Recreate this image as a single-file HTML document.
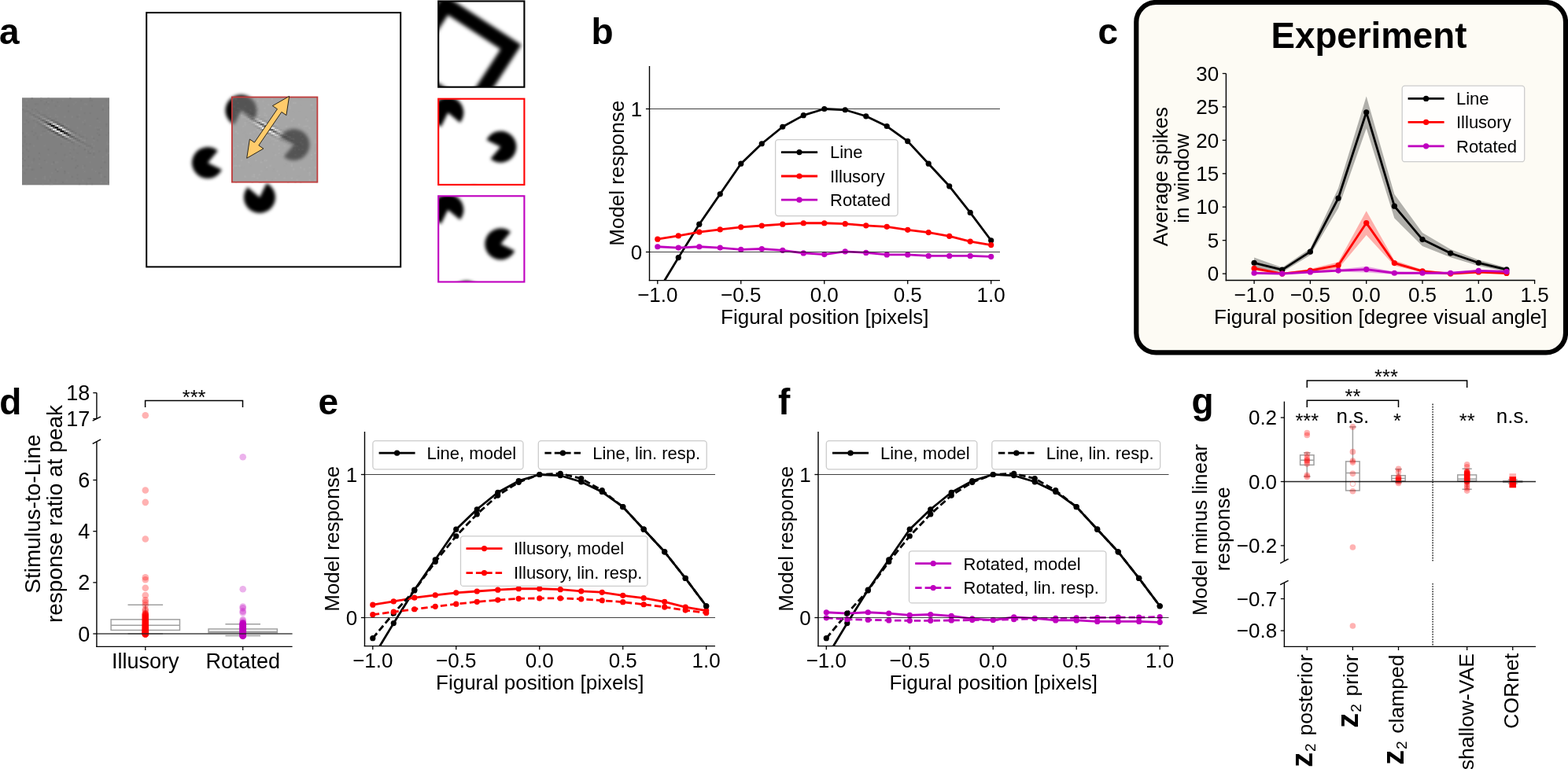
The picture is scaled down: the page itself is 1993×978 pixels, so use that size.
<!DOCTYPE html><html><head><meta charset="utf-8"><style>html,body{margin:0;padding:0;background:#fff;}svg{display:block;}text{font-family:"Liberation Sans", Arial, Helvetica, sans-serif;fill:#000;}</style></head><body>
<svg width="1993" height="978" viewBox="0 0 1993 978">
<defs><filter id="blur2" x="-20%" y="-20%" width="140%" height="140%"><feGaussianBlur stdDeviation="2.3"/></filter><filter id="blur3" x="-20%" y="-20%" width="140%" height="140%"><feGaussianBlur stdDeviation="2.8"/></filter><filter id="blur1" x="-20%" y="-20%" width="140%" height="140%"><feGaussianBlur stdDeviation="0.7"/></filter></defs>
<rect width="1993" height="978" fill="#fff"/>
<text x="-1" y="55.5" font-size="46" text-anchor="start" font-weight="bold">a</text>
<text x="751.5" y="55.5" font-size="46" text-anchor="start" font-weight="bold">b</text>
<text x="1395.5" y="55.5" font-size="46" text-anchor="start" font-weight="bold">c</text>
<text x="-0.8" y="527.3" font-size="46" text-anchor="start" font-weight="bold">d</text>
<text x="404.5" y="527.2" font-size="46" text-anchor="start" font-weight="bold">e</text>
<text x="989" y="527" font-size="46" text-anchor="start" font-weight="bold">f</text>
<text x="1514.5" y="526" font-size="46" text-anchor="start" font-weight="bold">g</text>
<rect x="28" y="124.3" width="111" height="111" fill="#808080"/>
<defs><clipPath id="clF"><rect x="28" y="124.3" width="111" height="111"/></clipPath><clipPath id="clO"><rect x="294.4" y="123" width="109.5" height="109.5"/></clipPath></defs>
<g clip-path="url(#clF)"><g filter="url(#blur1)"><rect x="28" y="131.24" width="2.36" height="2.36" fill="rgb(132,132,132)"/><rect x="28" y="135.86" width="2.36" height="2.36" fill="rgb(133,133,133)"/><rect x="28" y="138.18" width="2.36" height="2.36" fill="rgb(122,122,122)"/><rect x="28" y="168.24" width="2.36" height="2.36" fill="rgb(122,122,122)"/><rect x="28" y="184.43" width="2.36" height="2.36" fill="rgb(123,123,123)"/><rect x="28" y="193.68" width="2.36" height="2.36" fill="rgb(123,123,123)"/><rect x="28" y="200.61" width="2.36" height="2.36" fill="rgb(122,122,122)"/><rect x="28" y="209.86" width="2.36" height="2.36" fill="rgb(122,122,122)"/><rect x="28" y="214.49" width="2.36" height="2.36" fill="rgb(133,133,133)"/><rect x="30.31" y="135.86" width="2.36" height="2.36" fill="rgb(132,132,132)"/><rect x="30.31" y="140.49" width="2.36" height="2.36" fill="rgb(123,123,123)"/><rect x="30.31" y="154.36" width="2.36" height="2.36" fill="rgb(132,132,132)"/><rect x="30.31" y="156.68" width="2.36" height="2.36" fill="rgb(124,124,124)"/><rect x="30.31" y="172.86" width="2.36" height="2.36" fill="rgb(122,122,122)"/><rect x="30.31" y="177.49" width="2.36" height="2.36" fill="rgb(124,124,124)"/><rect x="30.31" y="179.8" width="2.36" height="2.36" fill="rgb(123,123,123)"/><rect x="30.31" y="189.05" width="2.36" height="2.36" fill="rgb(131,131,131)"/><rect x="30.31" y="200.61" width="2.36" height="2.36" fill="rgb(132,132,132)"/><rect x="30.31" y="202.93" width="2.36" height="2.36" fill="rgb(122,122,122)"/><rect x="30.31" y="212.18" width="2.36" height="2.36" fill="rgb(131,131,131)"/><rect x="30.31" y="219.11" width="2.36" height="2.36" fill="rgb(123,123,123)"/><rect x="32.62" y="126.61" width="2.36" height="2.36" fill="rgb(135,135,135)"/><rect x="32.62" y="133.55" width="2.36" height="2.36" fill="rgb(124,124,124)"/><rect x="32.62" y="140.49" width="2.36" height="2.36" fill="rgb(123,123,123)"/><rect x="32.62" y="142.8" width="2.36" height="2.36" fill="rgb(133,133,133)"/><rect x="32.62" y="145.11" width="2.36" height="2.36" fill="rgb(132,132,132)"/><rect x="32.62" y="152.05" width="2.36" height="2.36" fill="rgb(123,123,123)"/><rect x="32.62" y="168.24" width="2.36" height="2.36" fill="rgb(133,133,133)"/><rect x="32.62" y="182.11" width="2.36" height="2.36" fill="rgb(124,124,124)"/><rect x="32.62" y="189.05" width="2.36" height="2.36" fill="rgb(123,123,123)"/><rect x="32.62" y="198.3" width="2.36" height="2.36" fill="rgb(131,131,131)"/><rect x="32.62" y="212.18" width="2.36" height="2.36" fill="rgb(132,132,132)"/><rect x="32.62" y="214.49" width="2.36" height="2.36" fill="rgb(123,123,123)"/><rect x="32.62" y="232.99" width="2.36" height="2.36" fill="rgb(132,132,132)"/><rect x="34.94" y="131.24" width="2.36" height="2.36" fill="rgb(131,131,131)"/><rect x="34.94" y="138.18" width="2.36" height="2.36" fill="rgb(133,133,133)"/><rect x="34.94" y="140.49" width="2.36" height="2.36" fill="rgb(123,123,123)"/><rect x="34.94" y="154.36" width="2.36" height="2.36" fill="rgb(122,122,122)"/><rect x="34.94" y="170.55" width="2.36" height="2.36" fill="rgb(132,132,132)"/><rect x="34.94" y="186.74" width="2.36" height="2.36" fill="rgb(132,132,132)"/><rect x="34.94" y="191.36" width="2.36" height="2.36" fill="rgb(124,124,124)"/><rect x="34.94" y="198.3" width="2.36" height="2.36" fill="rgb(122,122,122)"/><rect x="34.94" y="209.86" width="2.36" height="2.36" fill="rgb(124,124,124)"/><rect x="37.25" y="138.18" width="2.36" height="2.36" fill="rgb(131,131,131)"/><rect x="37.25" y="142.8" width="2.36" height="2.36" fill="rgb(121,121,121)"/><rect x="37.25" y="147.43" width="2.36" height="2.36" fill="rgb(132,132,132)"/><rect x="37.25" y="182.11" width="2.36" height="2.36" fill="rgb(123,123,123)"/><rect x="37.25" y="212.18" width="2.36" height="2.36" fill="rgb(133,133,133)"/><rect x="39.56" y="124.3" width="2.36" height="2.36" fill="rgb(122,122,122)"/><rect x="39.56" y="138.18" width="2.36" height="2.36" fill="rgb(123,123,123)"/><rect x="39.56" y="145.11" width="2.36" height="2.36" fill="rgb(123,123,123)"/><rect x="39.56" y="147.43" width="2.36" height="2.36" fill="rgb(137,137,137)"/><rect x="39.56" y="149.74" width="2.36" height="2.36" fill="rgb(131,131,131)"/><rect x="39.56" y="165.93" width="2.36" height="2.36" fill="rgb(123,123,123)"/><rect x="39.56" y="205.24" width="2.36" height="2.36" fill="rgb(132,132,132)"/><rect x="39.56" y="214.49" width="2.36" height="2.36" fill="rgb(122,122,122)"/><rect x="41.88" y="142.8" width="2.36" height="2.36" fill="rgb(133,133,133)"/><rect x="41.88" y="145.11" width="2.36" height="2.36" fill="rgb(118,118,118)"/><rect x="41.88" y="149.74" width="2.36" height="2.36" fill="rgb(133,133,133)"/><rect x="41.88" y="152.05" width="2.36" height="2.36" fill="rgb(124,124,124)"/><rect x="41.88" y="161.3" width="2.36" height="2.36" fill="rgb(132,132,132)"/><rect x="41.88" y="170.55" width="2.36" height="2.36" fill="rgb(124,124,124)"/><rect x="41.88" y="184.43" width="2.36" height="2.36" fill="rgb(133,133,133)"/><rect x="41.88" y="200.61" width="2.36" height="2.36" fill="rgb(123,123,123)"/><rect x="41.88" y="202.93" width="2.36" height="2.36" fill="rgb(124,124,124)"/><rect x="41.88" y="214.49" width="2.36" height="2.36" fill="rgb(124,124,124)"/><rect x="44.19" y="131.24" width="2.36" height="2.36" fill="rgb(123,123,123)"/><rect x="44.19" y="135.86" width="2.36" height="2.36" fill="rgb(131,131,131)"/><rect x="44.19" y="138.18" width="2.36" height="2.36" fill="rgb(124,124,124)"/><rect x="44.19" y="147.43" width="2.36" height="2.36" fill="rgb(119,119,119)"/><rect x="44.19" y="149.74" width="2.36" height="2.36" fill="rgb(135,135,135)"/><rect x="44.19" y="156.68" width="2.36" height="2.36" fill="rgb(132,132,132)"/><rect x="44.19" y="158.99" width="2.36" height="2.36" fill="rgb(132,132,132)"/><rect x="44.19" y="168.24" width="2.36" height="2.36" fill="rgb(123,123,123)"/><rect x="44.19" y="226.05" width="2.36" height="2.36" fill="rgb(133,133,133)"/><rect x="46.5" y="131.24" width="2.36" height="2.36" fill="rgb(124,124,124)"/><rect x="46.5" y="140.49" width="2.36" height="2.36" fill="rgb(123,123,123)"/><rect x="46.5" y="145.11" width="2.36" height="2.36" fill="rgb(136,136,136)"/><rect x="46.5" y="147.43" width="2.36" height="2.36" fill="rgb(121,121,121)"/><rect x="46.5" y="152.05" width="2.36" height="2.36" fill="rgb(134,134,134)"/><rect x="46.5" y="154.36" width="2.36" height="2.36" fill="rgb(121,121,121)"/><rect x="46.5" y="172.86" width="2.36" height="2.36" fill="rgb(124,124,124)"/><rect x="46.5" y="175.18" width="2.36" height="2.36" fill="rgb(124,124,124)"/><rect x="48.81" y="142.8" width="2.36" height="2.36" fill="rgb(122,122,122)"/><rect x="48.81" y="145.11" width="2.36" height="2.36" fill="rgb(134,134,134)"/><rect x="48.81" y="149.74" width="2.36" height="2.36" fill="rgb(114,114,114)"/><rect x="48.81" y="152.05" width="2.36" height="2.36" fill="rgb(140,140,140)"/><rect x="48.81" y="154.36" width="2.36" height="2.36" fill="rgb(131,131,131)"/><rect x="48.81" y="156.68" width="2.36" height="2.36" fill="rgb(122,122,122)"/><rect x="48.81" y="193.68" width="2.36" height="2.36" fill="rgb(122,122,122)"/><rect x="48.81" y="198.3" width="2.36" height="2.36" fill="rgb(131,131,131)"/><rect x="48.81" y="200.61" width="2.36" height="2.36" fill="rgb(124,124,124)"/><rect x="48.81" y="207.55" width="2.36" height="2.36" fill="rgb(133,133,133)"/><rect x="51.12" y="124.3" width="2.36" height="2.36" fill="rgb(133,133,133)"/><rect x="51.12" y="126.61" width="2.36" height="2.36" fill="rgb(124,124,124)"/><rect x="51.12" y="140.49" width="2.36" height="2.36" fill="rgb(132,132,132)"/><rect x="51.12" y="145.11" width="2.36" height="2.36" fill="rgb(124,124,124)"/><rect x="51.12" y="147.43" width="2.36" height="2.36" fill="rgb(141,141,141)"/><rect x="51.12" y="149.74" width="2.36" height="2.36" fill="rgb(123,123,123)"/><rect x="51.12" y="152.05" width="2.36" height="2.36" fill="rgb(120,120,120)"/><rect x="51.12" y="154.36" width="2.36" height="2.36" fill="rgb(146,146,146)"/><rect x="51.12" y="156.68" width="2.36" height="2.36" fill="rgb(122,122,122)"/><rect x="51.12" y="158.99" width="2.36" height="2.36" fill="rgb(124,124,124)"/><rect x="51.12" y="170.55" width="2.36" height="2.36" fill="rgb(134,134,134)"/><rect x="51.12" y="212.18" width="2.36" height="2.36" fill="rgb(122,122,122)"/><rect x="53.44" y="145.11" width="2.36" height="2.36" fill="rgb(120,120,120)"/><rect x="53.44" y="147.43" width="2.36" height="2.36" fill="rgb(134,134,134)"/><rect x="53.44" y="149.74" width="2.36" height="2.36" fill="rgb(142,142,142)"/><rect x="53.44" y="152.05" width="2.36" height="2.36" fill="rgb(104,104,104)"/><rect x="53.44" y="154.36" width="2.36" height="2.36" fill="rgb(135,135,135)"/><rect x="53.44" y="156.68" width="2.36" height="2.36" fill="rgb(140,140,140)"/><rect x="53.44" y="158.99" width="2.36" height="2.36" fill="rgb(117,117,117)"/><rect x="53.44" y="165.93" width="2.36" height="2.36" fill="rgb(124,124,124)"/><rect x="53.44" y="226.05" width="2.36" height="2.36" fill="rgb(131,131,131)"/><rect x="53.44" y="232.99" width="2.36" height="2.36" fill="rgb(132,132,132)"/><rect x="55.75" y="126.61" width="2.36" height="2.36" fill="rgb(131,131,131)"/><rect x="55.75" y="131.24" width="2.36" height="2.36" fill="rgb(123,123,123)"/><rect x="55.75" y="145.11" width="2.36" height="2.36" fill="rgb(122,122,122)"/><rect x="55.75" y="147.43" width="2.36" height="2.36" fill="rgb(123,123,123)"/><rect x="55.75" y="149.74" width="2.36" height="2.36" fill="rgb(144,144,144)"/><rect x="55.75" y="152.05" width="2.36" height="2.36" fill="rgb(117,117,117)"/><rect x="55.75" y="154.36" width="2.36" height="2.36" fill="rgb(106,106,106)"/><rect x="55.75" y="156.68" width="2.36" height="2.36" fill="rgb(160,160,160)"/><rect x="55.75" y="158.99" width="2.36" height="2.36" fill="rgb(122,122,122)"/><rect x="55.75" y="161.3" width="2.36" height="2.36" fill="rgb(117,117,117)"/><rect x="55.75" y="165.93" width="2.36" height="2.36" fill="rgb(124,124,124)"/><rect x="55.75" y="168.24" width="2.36" height="2.36" fill="rgb(131,131,131)"/><rect x="55.75" y="184.43" width="2.36" height="2.36" fill="rgb(131,131,131)"/><rect x="55.75" y="202.93" width="2.36" height="2.36" fill="rgb(124,124,124)"/><rect x="55.75" y="223.74" width="2.36" height="2.36" fill="rgb(133,133,133)"/><rect x="55.75" y="226.05" width="2.36" height="2.36" fill="rgb(133,133,133)"/><rect x="58.06" y="128.93" width="2.36" height="2.36" fill="rgb(122,122,122)"/><rect x="58.06" y="138.18" width="2.36" height="2.36" fill="rgb(132,132,132)"/><rect x="58.06" y="147.43" width="2.36" height="2.36" fill="rgb(121,121,121)"/><rect x="58.06" y="149.74" width="2.36" height="2.36" fill="rgb(131,131,131)"/><rect x="58.06" y="152.05" width="2.36" height="2.36" fill="rgb(152,152,152)"/><rect x="58.06" y="154.36" width="2.36" height="2.36" fill="rgb(82,82,82)"/><rect x="58.06" y="156.68" width="2.36" height="2.36" fill="rgb(138,138,138)"/><rect x="58.06" y="158.99" width="2.36" height="2.36" fill="rgb(162,162,162)"/><rect x="58.06" y="161.3" width="2.36" height="2.36" fill="rgb(107,107,107)"/><rect x="58.06" y="205.24" width="2.36" height="2.36" fill="rgb(132,132,132)"/><rect x="60.38" y="124.3" width="2.36" height="2.36" fill="rgb(131,131,131)"/><rect x="60.38" y="128.93" width="2.36" height="2.36" fill="rgb(133,133,133)"/><rect x="60.38" y="131.24" width="2.36" height="2.36" fill="rgb(124,124,124)"/><rect x="60.38" y="135.86" width="2.36" height="2.36" fill="rgb(132,132,132)"/><rect x="60.38" y="142.8" width="2.36" height="2.36" fill="rgb(131,131,131)"/><rect x="60.38" y="149.74" width="2.36" height="2.36" fill="rgb(115,115,115)"/><rect x="60.38" y="152.05" width="2.36" height="2.36" fill="rgb(159,159,159)"/><rect x="60.38" y="154.36" width="2.36" height="2.36" fill="rgb(122,122,122)"/><rect x="60.38" y="156.68" width="2.36" height="2.36" fill="rgb(67,67,67)"/><rect x="60.38" y="158.99" width="2.36" height="2.36" fill="rgb(189,189,189)"/><rect x="60.38" y="163.61" width="2.36" height="2.36" fill="rgb(107,107,107)"/><rect x="60.38" y="165.93" width="2.36" height="2.36" fill="rgb(137,137,137)"/><rect x="60.38" y="189.05" width="2.36" height="2.36" fill="rgb(123,123,123)"/><rect x="60.38" y="195.99" width="2.36" height="2.36" fill="rgb(132,132,132)"/><rect x="60.38" y="228.36" width="2.36" height="2.36" fill="rgb(132,132,132)"/><rect x="62.69" y="147.43" width="2.36" height="2.36" fill="rgb(133,133,133)"/><rect x="62.69" y="149.74" width="2.36" height="2.36" fill="rgb(121,121,121)"/><rect x="62.69" y="154.36" width="2.36" height="2.36" fill="rgb(175,175,175)"/><rect x="62.69" y="156.68" width="2.36" height="2.36" fill="rgb(46,46,46)"/><rect x="62.69" y="161.3" width="2.36" height="2.36" fill="rgb(197,197,197)"/><rect x="62.69" y="163.61" width="2.36" height="2.36" fill="rgb(92,92,92)"/><rect x="62.69" y="165.93" width="2.36" height="2.36" fill="rgb(122,122,122)"/><rect x="62.69" y="168.24" width="2.36" height="2.36" fill="rgb(136,136,136)"/><rect x="62.69" y="223.74" width="2.36" height="2.36" fill="rgb(132,132,132)"/><rect x="62.69" y="228.36" width="2.36" height="2.36" fill="rgb(123,123,123)"/><rect x="62.69" y="232.99" width="2.36" height="2.36" fill="rgb(132,132,132)"/><rect x="65" y="126.61" width="2.36" height="2.36" fill="rgb(124,124,124)"/><rect x="65" y="152.05" width="2.36" height="2.36" fill="rgb(109,109,109)"/><rect x="65" y="154.36" width="2.36" height="2.36" fill="rgb(178,178,178)"/><rect x="65" y="156.68" width="2.36" height="2.36" fill="rgb(134,134,134)"/><rect x="65" y="158.99" width="2.36" height="2.36" fill="rgb(8,8,8)"/><rect x="65" y="161.3" width="2.36" height="2.36" fill="rgb(216,216,216)"/><rect x="65" y="163.61" width="2.36" height="2.36" fill="rgb(146,146,146)"/><rect x="65" y="165.93" width="2.36" height="2.36" fill="rgb(98,98,98)"/><rect x="65" y="168.24" width="2.36" height="2.36" fill="rgb(140,140,140)"/><rect x="65" y="207.55" width="2.36" height="2.36" fill="rgb(133,133,133)"/><rect x="65" y="219.11" width="2.36" height="2.36" fill="rgb(131,131,131)"/><rect x="65" y="232.99" width="2.36" height="2.36" fill="rgb(133,133,133)"/><rect x="67.31" y="128.93" width="2.36" height="2.36" fill="rgb(131,131,131)"/><rect x="67.31" y="152.05" width="2.36" height="2.36" fill="rgb(115,115,115)"/><rect x="67.31" y="154.36" width="2.36" height="2.36" fill="rgb(119,119,119)"/><rect x="67.31" y="156.68" width="2.36" height="2.36" fill="rgb(215,215,215)"/><rect x="67.31" y="158.99" width="2.36" height="2.36" fill="rgb(16,16,16)"/><rect x="67.31" y="161.3" width="2.36" height="2.36" fill="rgb(84,84,84)"/><rect x="67.31" y="163.61" width="2.36" height="2.36" fill="rgb(246,246,246)"/><rect x="67.31" y="165.93" width="2.36" height="2.36" fill="rgb(83,83,83)"/><rect x="67.31" y="168.24" width="2.36" height="2.36" fill="rgb(119,119,119)"/><rect x="67.31" y="170.55" width="2.36" height="2.36" fill="rgb(138,138,138)"/><rect x="67.31" y="172.86" width="2.36" height="2.36" fill="rgb(123,123,123)"/><rect x="67.31" y="205.24" width="2.36" height="2.36" fill="rgb(121,121,121)"/><rect x="69.62" y="133.55" width="2.36" height="2.36" fill="rgb(124,124,124)"/><rect x="69.62" y="138.18" width="2.36" height="2.36" fill="rgb(131,131,131)"/><rect x="69.62" y="145.11" width="2.36" height="2.36" fill="rgb(132,132,132)"/><rect x="69.62" y="147.43" width="2.36" height="2.36" fill="rgb(133,133,133)"/><rect x="69.62" y="149.74" width="2.36" height="2.36" fill="rgb(123,123,123)"/><rect x="69.62" y="154.36" width="2.36" height="2.36" fill="rgb(104,104,104)"/><rect x="69.62" y="156.68" width="2.36" height="2.36" fill="rgb(181,181,181)"/><rect x="69.62" y="158.99" width="2.36" height="2.36" fill="rgb(167,167,167)"/><rect x="69.62" y="161.3" width="2.36" height="2.36" fill="rgb(0,0,0)"/><rect x="69.62" y="163.61" width="2.36" height="2.36" fill="rgb(227,227,227)"/><rect x="69.62" y="165.93" width="2.36" height="2.36" fill="rgb(170,170,170)"/><rect x="69.62" y="168.24" width="2.36" height="2.36" fill="rgb(82,82,82)"/><rect x="69.62" y="170.55" width="2.36" height="2.36" fill="rgb(136,136,136)"/><rect x="69.62" y="193.68" width="2.36" height="2.36" fill="rgb(124,124,124)"/><rect x="69.62" y="205.24" width="2.36" height="2.36" fill="rgb(133,133,133)"/><rect x="69.62" y="214.49" width="2.36" height="2.36" fill="rgb(122,122,122)"/><rect x="69.62" y="228.36" width="2.36" height="2.36" fill="rgb(124,124,124)"/><rect x="71.94" y="128.93" width="2.36" height="2.36" fill="rgb(124,124,124)"/><rect x="71.94" y="147.43" width="2.36" height="2.36" fill="rgb(132,132,132)"/><rect x="71.94" y="152.05" width="2.36" height="2.36" fill="rgb(132,132,132)"/><rect x="71.94" y="154.36" width="2.36" height="2.36" fill="rgb(112,112,112)"/><rect x="71.94" y="156.68" width="2.36" height="2.36" fill="rgb(109,109,109)"/><rect x="71.94" y="158.99" width="2.36" height="2.36" fill="rgb(244,244,244)"/><rect x="71.94" y="161.3" width="2.36" height="2.36" fill="rgb(21,21,21)"/><rect x="71.94" y="163.61" width="2.36" height="2.36" fill="rgb(37,37,37)"/><rect x="71.94" y="165.93" width="2.36" height="2.36" fill="rgb(255,255,255)"/><rect x="71.94" y="168.24" width="2.36" height="2.36" fill="rgb(92,92,92)"/><rect x="71.94" y="170.55" width="2.36" height="2.36" fill="rgb(108,108,108)"/><rect x="71.94" y="172.86" width="2.36" height="2.36" fill="rgb(135,135,135)"/><rect x="71.94" y="205.24" width="2.36" height="2.36" fill="rgb(132,132,132)"/><rect x="71.94" y="214.49" width="2.36" height="2.36" fill="rgb(133,133,133)"/><rect x="71.94" y="216.8" width="2.36" height="2.36" fill="rgb(121,121,121)"/><rect x="71.94" y="230.68" width="2.36" height="2.36" fill="rgb(131,131,131)"/><rect x="74.25" y="133.55" width="2.36" height="2.36" fill="rgb(132,132,132)"/><rect x="74.25" y="156.68" width="2.36" height="2.36" fill="rgb(95,95,95)"/><rect x="74.25" y="158.99" width="2.36" height="2.36" fill="rgb(173,173,173)"/><rect x="74.25" y="161.3" width="2.36" height="2.36" fill="rgb(205,205,205)"/><rect x="74.25" y="163.61" width="2.36" height="2.36" fill="rgb(0,0,0)"/><rect x="74.25" y="165.93" width="2.36" height="2.36" fill="rgb(203,203,203)"/><rect x="74.25" y="168.24" width="2.36" height="2.36" fill="rgb(190,190,190)"/><rect x="74.25" y="170.55" width="2.36" height="2.36" fill="rgb(82,82,82)"/><rect x="74.25" y="172.86" width="2.36" height="2.36" fill="rgb(134,134,134)"/><rect x="76.56" y="154.36" width="2.36" height="2.36" fill="rgb(133,133,133)"/><rect x="76.56" y="156.68" width="2.36" height="2.36" fill="rgb(118,118,118)"/><rect x="76.56" y="158.99" width="2.36" height="2.36" fill="rgb(100,100,100)"/><rect x="76.56" y="161.3" width="2.36" height="2.36" fill="rgb(244,244,244)"/><rect x="76.56" y="163.61" width="2.36" height="2.36" fill="rgb(60,60,60)"/><rect x="76.56" y="165.93" width="2.36" height="2.36" fill="rgb(8,8,8)"/><rect x="76.56" y="168.24" width="2.36" height="2.36" fill="rgb(255,255,255)"/><rect x="76.56" y="170.55" width="2.36" height="2.36" fill="rgb(108,108,108)"/><rect x="76.56" y="172.86" width="2.36" height="2.36" fill="rgb(110,110,110)"/><rect x="76.56" y="175.18" width="2.36" height="2.36" fill="rgb(133,133,133)"/><rect x="76.56" y="182.11" width="2.36" height="2.36" fill="rgb(122,122,122)"/><rect x="76.56" y="212.18" width="2.36" height="2.36" fill="rgb(132,132,132)"/><rect x="78.88" y="126.61" width="2.36" height="2.36" fill="rgb(132,132,132)"/><rect x="78.88" y="158.99" width="2.36" height="2.36" fill="rgb(96,96,96)"/><rect x="78.88" y="161.3" width="2.36" height="2.36" fill="rgb(151,151,151)"/><rect x="78.88" y="163.61" width="2.36" height="2.36" fill="rgb(220,220,220)"/><rect x="78.88" y="165.93" width="2.36" height="2.36" fill="rgb(0,0,0)"/><rect x="78.88" y="168.24" width="2.36" height="2.36" fill="rgb(156,156,156)"/><rect x="78.88" y="170.55" width="2.36" height="2.36" fill="rgb(197,197,197)"/><rect x="78.88" y="172.86" width="2.36" height="2.36" fill="rgb(91,91,91)"/><rect x="78.88" y="177.49" width="2.36" height="2.36" fill="rgb(132,132,132)"/><rect x="78.88" y="202.93" width="2.36" height="2.36" fill="rgb(124,124,124)"/><rect x="78.88" y="230.68" width="2.36" height="2.36" fill="rgb(122,122,122)"/><rect x="81.19" y="147.43" width="2.36" height="2.36" fill="rgb(133,133,133)"/><rect x="81.19" y="156.68" width="2.36" height="2.36" fill="rgb(136,136,136)"/><rect x="81.19" y="158.99" width="2.36" height="2.36" fill="rgb(124,124,124)"/><rect x="81.19" y="161.3" width="2.36" height="2.36" fill="rgb(101,101,101)"/><rect x="81.19" y="163.61" width="2.36" height="2.36" fill="rgb(208,208,208)"/><rect x="81.19" y="165.93" width="2.36" height="2.36" fill="rgb(104,104,104)"/><rect x="81.19" y="168.24" width="2.36" height="2.36" fill="rgb(23,23,23)"/><rect x="81.19" y="170.55" width="2.36" height="2.36" fill="rgb(212,212,212)"/><rect x="81.19" y="175.18" width="2.36" height="2.36" fill="rgb(111,111,111)"/><rect x="81.19" y="177.49" width="2.36" height="2.36" fill="rgb(132,132,132)"/><rect x="81.19" y="184.43" width="2.36" height="2.36" fill="rgb(132,132,132)"/><rect x="81.19" y="195.99" width="2.36" height="2.36" fill="rgb(124,124,124)"/><rect x="81.19" y="216.8" width="2.36" height="2.36" fill="rgb(121,121,121)"/><rect x="81.19" y="219.11" width="2.36" height="2.36" fill="rgb(123,123,123)"/><rect x="83.5" y="158.99" width="2.36" height="2.36" fill="rgb(136,136,136)"/><rect x="83.5" y="161.3" width="2.36" height="2.36" fill="rgb(109,109,109)"/><rect x="83.5" y="163.61" width="2.36" height="2.36" fill="rgb(132,132,132)"/><rect x="83.5" y="165.93" width="2.36" height="2.36" fill="rgb(198,198,198)"/><rect x="83.5" y="168.24" width="2.36" height="2.36" fill="rgb(35,35,35)"/><rect x="83.5" y="172.86" width="2.36" height="2.36" fill="rgb(175,175,175)"/><rect x="83.5" y="175.18" width="2.36" height="2.36" fill="rgb(106,106,106)"/><rect x="83.5" y="179.8" width="2.36" height="2.36" fill="rgb(132,132,132)"/><rect x="83.5" y="198.3" width="2.36" height="2.36" fill="rgb(131,131,131)"/><rect x="83.5" y="228.36" width="2.36" height="2.36" fill="rgb(131,131,131)"/><rect x="85.81" y="133.55" width="2.36" height="2.36" fill="rgb(123,123,123)"/><rect x="85.81" y="140.49" width="2.36" height="2.36" fill="rgb(123,123,123)"/><rect x="85.81" y="158.99" width="2.36" height="2.36" fill="rgb(133,133,133)"/><rect x="85.81" y="163.61" width="2.36" height="2.36" fill="rgb(109,109,109)"/><rect x="85.81" y="165.93" width="2.36" height="2.36" fill="rgb(173,173,173)"/><rect x="85.81" y="170.55" width="2.36" height="2.36" fill="rgb(60,60,60)"/><rect x="85.81" y="172.86" width="2.36" height="2.36" fill="rgb(172,172,172)"/><rect x="85.81" y="175.18" width="2.36" height="2.36" fill="rgb(136,136,136)"/><rect x="85.81" y="177.49" width="2.36" height="2.36" fill="rgb(118,118,118)"/><rect x="85.81" y="179.8" width="2.36" height="2.36" fill="rgb(134,134,134)"/><rect x="85.81" y="219.11" width="2.36" height="2.36" fill="rgb(131,131,131)"/><rect x="88.12" y="124.3" width="2.36" height="2.36" fill="rgb(123,123,123)"/><rect x="88.12" y="163.61" width="2.36" height="2.36" fill="rgb(119,119,119)"/><rect x="88.12" y="168.24" width="2.36" height="2.36" fill="rgb(171,171,171)"/><rect x="88.12" y="170.55" width="2.36" height="2.36" fill="rgb(88,88,88)"/><rect x="88.12" y="172.86" width="2.36" height="2.36" fill="rgb(115,115,115)"/><rect x="88.12" y="175.18" width="2.36" height="2.36" fill="rgb(157,157,157)"/><rect x="88.12" y="177.49" width="2.36" height="2.36" fill="rgb(118,118,118)"/><rect x="88.12" y="186.74" width="2.36" height="2.36" fill="rgb(132,132,132)"/><rect x="88.12" y="191.36" width="2.36" height="2.36" fill="rgb(131,131,131)"/><rect x="88.12" y="193.68" width="2.36" height="2.36" fill="rgb(124,124,124)"/><rect x="88.12" y="195.99" width="2.36" height="2.36" fill="rgb(131,131,131)"/><rect x="88.12" y="223.74" width="2.36" height="2.36" fill="rgb(131,131,131)"/><rect x="90.44" y="147.43" width="2.36" height="2.36" fill="rgb(133,133,133)"/><rect x="90.44" y="165.93" width="2.36" height="2.36" fill="rgb(112,112,112)"/><rect x="90.44" y="168.24" width="2.36" height="2.36" fill="rgb(145,145,145)"/><rect x="90.44" y="170.55" width="2.36" height="2.36" fill="rgb(137,137,137)"/><rect x="90.44" y="172.86" width="2.36" height="2.36" fill="rgb(94,94,94)"/><rect x="90.44" y="175.18" width="2.36" height="2.36" fill="rgb(144,144,144)"/><rect x="90.44" y="177.49" width="2.36" height="2.36" fill="rgb(136,136,136)"/><rect x="90.44" y="179.8" width="2.36" height="2.36" fill="rgb(117,117,117)"/><rect x="90.44" y="200.61" width="2.36" height="2.36" fill="rgb(123,123,123)"/><rect x="90.44" y="223.74" width="2.36" height="2.36" fill="rgb(123,123,123)"/><rect x="92.75" y="131.24" width="2.36" height="2.36" fill="rgb(131,131,131)"/><rect x="92.75" y="165.93" width="2.36" height="2.36" fill="rgb(121,121,121)"/><rect x="92.75" y="168.24" width="2.36" height="2.36" fill="rgb(124,124,124)"/><rect x="92.75" y="170.55" width="2.36" height="2.36" fill="rgb(148,148,148)"/><rect x="92.75" y="172.86" width="2.36" height="2.36" fill="rgb(111,111,111)"/><rect x="92.75" y="175.18" width="2.36" height="2.36" fill="rgb(116,116,116)"/><rect x="92.75" y="177.49" width="2.36" height="2.36" fill="rgb(144,144,144)"/><rect x="92.75" y="179.8" width="2.36" height="2.36" fill="rgb(124,124,124)"/><rect x="92.75" y="182.11" width="2.36" height="2.36" fill="rgb(124,124,124)"/><rect x="92.75" y="189.05" width="2.36" height="2.36" fill="rgb(124,124,124)"/><rect x="92.75" y="198.3" width="2.36" height="2.36" fill="rgb(132,132,132)"/><rect x="95.06" y="128.93" width="2.36" height="2.36" fill="rgb(132,132,132)"/><rect x="95.06" y="168.24" width="2.36" height="2.36" fill="rgb(117,117,117)"/><rect x="95.06" y="170.55" width="2.36" height="2.36" fill="rgb(132,132,132)"/><rect x="95.06" y="172.86" width="2.36" height="2.36" fill="rgb(136,136,136)"/><rect x="95.06" y="175.18" width="2.36" height="2.36" fill="rgb(108,108,108)"/><rect x="95.06" y="177.49" width="2.36" height="2.36" fill="rgb(133,133,133)"/><rect x="95.06" y="179.8" width="2.36" height="2.36" fill="rgb(134,134,134)"/><rect x="95.06" y="186.74" width="2.36" height="2.36" fill="rgb(132,132,132)"/><rect x="95.06" y="202.93" width="2.36" height="2.36" fill="rgb(124,124,124)"/><rect x="95.06" y="212.18" width="2.36" height="2.36" fill="rgb(122,122,122)"/><rect x="95.06" y="228.36" width="2.36" height="2.36" fill="rgb(131,131,131)"/><rect x="97.38" y="147.43" width="2.36" height="2.36" fill="rgb(123,123,123)"/><rect x="97.38" y="161.3" width="2.36" height="2.36" fill="rgb(132,132,132)"/><rect x="97.38" y="172.86" width="2.36" height="2.36" fill="rgb(137,137,137)"/><rect x="97.38" y="175.18" width="2.36" height="2.36" fill="rgb(119,119,119)"/><rect x="97.38" y="177.49" width="2.36" height="2.36" fill="rgb(114,114,114)"/><rect x="97.38" y="179.8" width="2.36" height="2.36" fill="rgb(135,135,135)"/><rect x="97.38" y="193.68" width="2.36" height="2.36" fill="rgb(124,124,124)"/><rect x="97.38" y="209.86" width="2.36" height="2.36" fill="rgb(121,121,121)"/><rect x="97.38" y="221.43" width="2.36" height="2.36" fill="rgb(124,124,124)"/><rect x="97.38" y="226.05" width="2.36" height="2.36" fill="rgb(124,124,124)"/><rect x="99.69" y="145.11" width="2.36" height="2.36" fill="rgb(131,131,131)"/><rect x="99.69" y="149.74" width="2.36" height="2.36" fill="rgb(131,131,131)"/><rect x="99.69" y="170.55" width="2.36" height="2.36" fill="rgb(122,122,122)"/><rect x="99.69" y="175.18" width="2.36" height="2.36" fill="rgb(134,134,134)"/><rect x="99.69" y="177.49" width="2.36" height="2.36" fill="rgb(114,114,114)"/><rect x="99.69" y="182.11" width="2.36" height="2.36" fill="rgb(134,134,134)"/><rect x="99.69" y="184.43" width="2.36" height="2.36" fill="rgb(122,122,122)"/><rect x="99.69" y="232.99" width="2.36" height="2.36" fill="rgb(124,124,124)"/><rect x="102" y="126.61" width="2.36" height="2.36" fill="rgb(123,123,123)"/><rect x="102" y="135.86" width="2.36" height="2.36" fill="rgb(131,131,131)"/><rect x="102" y="138.18" width="2.36" height="2.36" fill="rgb(132,132,132)"/><rect x="102" y="165.93" width="2.36" height="2.36" fill="rgb(132,132,132)"/><rect x="102" y="172.86" width="2.36" height="2.36" fill="rgb(121,121,121)"/><rect x="102" y="175.18" width="2.36" height="2.36" fill="rgb(137,137,137)"/><rect x="102" y="179.8" width="2.36" height="2.36" fill="rgb(121,121,121)"/><rect x="102" y="182.11" width="2.36" height="2.36" fill="rgb(133,133,133)"/><rect x="104.31" y="154.36" width="2.36" height="2.36" fill="rgb(133,133,133)"/><rect x="104.31" y="172.86" width="2.36" height="2.36" fill="rgb(122,122,122)"/><rect x="104.31" y="177.49" width="2.36" height="2.36" fill="rgb(136,136,136)"/><rect x="104.31" y="179.8" width="2.36" height="2.36" fill="rgb(117,117,117)"/><rect x="104.31" y="184.43" width="2.36" height="2.36" fill="rgb(133,133,133)"/><rect x="104.31" y="209.86" width="2.36" height="2.36" fill="rgb(131,131,131)"/><rect x="104.31" y="212.18" width="2.36" height="2.36" fill="rgb(133,133,133)"/><rect x="104.31" y="228.36" width="2.36" height="2.36" fill="rgb(133,133,133)"/><rect x="106.62" y="131.24" width="2.36" height="2.36" fill="rgb(132,132,132)"/><rect x="106.62" y="142.8" width="2.36" height="2.36" fill="rgb(124,124,124)"/><rect x="106.62" y="152.05" width="2.36" height="2.36" fill="rgb(132,132,132)"/><rect x="106.62" y="156.68" width="2.36" height="2.36" fill="rgb(124,124,124)"/><rect x="106.62" y="170.55" width="2.36" height="2.36" fill="rgb(131,131,131)"/><rect x="106.62" y="177.49" width="2.36" height="2.36" fill="rgb(138,138,138)"/><rect x="106.62" y="182.11" width="2.36" height="2.36" fill="rgb(121,121,121)"/><rect x="106.62" y="184.43" width="2.36" height="2.36" fill="rgb(134,134,134)"/><rect x="106.62" y="189.05" width="2.36" height="2.36" fill="rgb(120,120,120)"/><rect x="106.62" y="209.86" width="2.36" height="2.36" fill="rgb(124,124,124)"/><rect x="106.62" y="216.8" width="2.36" height="2.36" fill="rgb(132,132,132)"/><rect x="108.94" y="131.24" width="2.36" height="2.36" fill="rgb(133,133,133)"/><rect x="108.94" y="175.18" width="2.36" height="2.36" fill="rgb(124,124,124)"/><rect x="108.94" y="182.11" width="2.36" height="2.36" fill="rgb(123,123,123)"/><rect x="108.94" y="184.43" width="2.36" height="2.36" fill="rgb(123,123,123)"/><rect x="108.94" y="186.74" width="2.36" height="2.36" fill="rgb(132,132,132)"/><rect x="108.94" y="191.36" width="2.36" height="2.36" fill="rgb(131,131,131)"/><rect x="108.94" y="198.3" width="2.36" height="2.36" fill="rgb(132,132,132)"/><rect x="108.94" y="232.99" width="2.36" height="2.36" fill="rgb(124,124,124)"/><rect x="111.25" y="184.43" width="2.36" height="2.36" fill="rgb(120,120,120)"/><rect x="111.25" y="186.74" width="2.36" height="2.36" fill="rgb(132,132,132)"/><rect x="111.25" y="191.36" width="2.36" height="2.36" fill="rgb(122,122,122)"/><rect x="111.25" y="193.68" width="2.36" height="2.36" fill="rgb(123,123,123)"/><rect x="111.25" y="226.05" width="2.36" height="2.36" fill="rgb(124,124,124)"/><rect x="111.25" y="230.68" width="2.36" height="2.36" fill="rgb(131,131,131)"/><rect x="113.56" y="124.3" width="2.36" height="2.36" fill="rgb(124,124,124)"/><rect x="113.56" y="126.61" width="2.36" height="2.36" fill="rgb(123,123,123)"/><rect x="113.56" y="142.8" width="2.36" height="2.36" fill="rgb(124,124,124)"/><rect x="113.56" y="158.99" width="2.36" height="2.36" fill="rgb(132,132,132)"/><rect x="113.56" y="184.43" width="2.36" height="2.36" fill="rgb(122,122,122)"/><rect x="113.56" y="191.36" width="2.36" height="2.36" fill="rgb(132,132,132)"/><rect x="113.56" y="193.68" width="2.36" height="2.36" fill="rgb(122,122,122)"/><rect x="113.56" y="205.24" width="2.36" height="2.36" fill="rgb(131,131,131)"/><rect x="113.56" y="226.05" width="2.36" height="2.36" fill="rgb(122,122,122)"/><rect x="115.88" y="126.61" width="2.36" height="2.36" fill="rgb(124,124,124)"/><rect x="115.88" y="133.55" width="2.36" height="2.36" fill="rgb(124,124,124)"/><rect x="115.88" y="172.86" width="2.36" height="2.36" fill="rgb(132,132,132)"/><rect x="115.88" y="182.11" width="2.36" height="2.36" fill="rgb(132,132,132)"/><rect x="115.88" y="186.74" width="2.36" height="2.36" fill="rgb(122,122,122)"/><rect x="115.88" y="214.49" width="2.36" height="2.36" fill="rgb(132,132,132)"/><rect x="115.88" y="232.99" width="2.36" height="2.36" fill="rgb(123,123,123)"/><rect x="118.19" y="175.18" width="2.36" height="2.36" fill="rgb(123,123,123)"/><rect x="118.19" y="177.49" width="2.36" height="2.36" fill="rgb(133,133,133)"/><rect x="118.19" y="184.43" width="2.36" height="2.36" fill="rgb(132,132,132)"/><rect x="118.19" y="191.36" width="2.36" height="2.36" fill="rgb(133,133,133)"/><rect x="118.19" y="193.68" width="2.36" height="2.36" fill="rgb(123,123,123)"/><rect x="118.19" y="195.99" width="2.36" height="2.36" fill="rgb(123,123,123)"/><rect x="118.19" y="198.3" width="2.36" height="2.36" fill="rgb(132,132,132)"/><rect x="120.5" y="161.3" width="2.36" height="2.36" fill="rgb(131,131,131)"/><rect x="120.5" y="216.8" width="2.36" height="2.36" fill="rgb(132,132,132)"/><rect x="122.81" y="149.74" width="2.36" height="2.36" fill="rgb(122,122,122)"/><rect x="122.81" y="152.05" width="2.36" height="2.36" fill="rgb(131,131,131)"/><rect x="122.81" y="161.3" width="2.36" height="2.36" fill="rgb(132,132,132)"/><rect x="122.81" y="163.61" width="2.36" height="2.36" fill="rgb(123,123,123)"/><rect x="122.81" y="168.24" width="2.36" height="2.36" fill="rgb(123,123,123)"/><rect x="122.81" y="177.49" width="2.36" height="2.36" fill="rgb(124,124,124)"/><rect x="125.12" y="154.36" width="2.36" height="2.36" fill="rgb(131,131,131)"/><rect x="125.12" y="161.3" width="2.36" height="2.36" fill="rgb(131,131,131)"/><rect x="125.12" y="163.61" width="2.36" height="2.36" fill="rgb(123,123,123)"/><rect x="125.12" y="170.55" width="2.36" height="2.36" fill="rgb(121,121,121)"/><rect x="125.12" y="191.36" width="2.36" height="2.36" fill="rgb(123,123,123)"/><rect x="125.12" y="219.11" width="2.36" height="2.36" fill="rgb(122,122,122)"/><rect x="127.44" y="163.61" width="2.36" height="2.36" fill="rgb(132,132,132)"/><rect x="127.44" y="212.18" width="2.36" height="2.36" fill="rgb(123,123,123)"/><rect x="127.44" y="214.49" width="2.36" height="2.36" fill="rgb(131,131,131)"/><rect x="127.44" y="221.43" width="2.36" height="2.36" fill="rgb(134,134,134)"/><rect x="127.44" y="223.74" width="2.36" height="2.36" fill="rgb(133,133,133)"/><rect x="127.44" y="230.68" width="2.36" height="2.36" fill="rgb(133,133,133)"/><rect x="129.75" y="133.55" width="2.36" height="2.36" fill="rgb(133,133,133)"/><rect x="129.75" y="138.18" width="2.36" height="2.36" fill="rgb(120,120,120)"/><rect x="129.75" y="198.3" width="2.36" height="2.36" fill="rgb(132,132,132)"/><rect x="129.75" y="202.93" width="2.36" height="2.36" fill="rgb(131,131,131)"/><rect x="132.06" y="140.49" width="2.36" height="2.36" fill="rgb(131,131,131)"/><rect x="132.06" y="205.24" width="2.36" height="2.36" fill="rgb(122,122,122)"/><rect x="132.06" y="223.74" width="2.36" height="2.36" fill="rgb(122,122,122)"/><rect x="134.38" y="126.61" width="2.36" height="2.36" fill="rgb(124,124,124)"/><rect x="134.38" y="156.68" width="2.36" height="2.36" fill="rgb(122,122,122)"/><rect x="134.38" y="158.99" width="2.36" height="2.36" fill="rgb(124,124,124)"/><rect x="134.38" y="170.55" width="2.36" height="2.36" fill="rgb(124,124,124)"/><rect x="134.38" y="179.8" width="2.36" height="2.36" fill="rgb(131,131,131)"/><rect x="134.38" y="182.11" width="2.36" height="2.36" fill="rgb(131,131,131)"/><rect x="134.38" y="189.05" width="2.36" height="2.36" fill="rgb(124,124,124)"/><rect x="134.38" y="191.36" width="2.36" height="2.36" fill="rgb(123,123,123)"/><rect x="134.38" y="195.99" width="2.36" height="2.36" fill="rgb(132,132,132)"/><rect x="134.38" y="214.49" width="2.36" height="2.36" fill="rgb(131,131,131)"/><rect x="134.38" y="230.68" width="2.36" height="2.36" fill="rgb(133,133,133)"/><rect x="136.69" y="131.24" width="2.36" height="2.36" fill="rgb(131,131,131)"/><rect x="136.69" y="135.86" width="2.36" height="2.36" fill="rgb(124,124,124)"/><rect x="136.69" y="168.24" width="2.36" height="2.36" fill="rgb(124,124,124)"/><rect x="136.69" y="182.11" width="2.36" height="2.36" fill="rgb(133,133,133)"/><rect x="136.69" y="193.68" width="2.36" height="2.36" fill="rgb(134,134,134)"/><rect x="136.69" y="230.68" width="2.36" height="2.36" fill="rgb(122,122,122)"/><rect x="136.69" y="232.99" width="2.36" height="2.36" fill="rgb(133,133,133)"/></g></g>
<rect x="186.2" y="16.1" width="323" height="323.3" fill="#fff" stroke="#000" stroke-width="2"/>
<g filter="url(#blur2)"><path d="M306.5,140.5 L297.8,158.51 A20,20 0 1 1 321.87,153.3 Z" fill="#000"/><path d="M373.5,184 L355.52,175.23 A20,20 0 1 1 360.65,199.32 Z" fill="#000"/><path d="M330,251 L338.87,233.08 A20,20 0 1 1 314.76,238.05 Z" fill="#000"/><path d="M264,207 L281.95,215.81 A20,20 0 1 1 276.89,191.71 Z" fill="#000"/></g>
<g opacity="0.68"><rect x="294.4" y="123" width="109.5" height="109.1" fill="#7d7d7d"/><g clip-path="url(#clO)"><g filter="url(#blur1)"><rect x="294.4" y="129.84" width="2.33" height="2.33" fill="rgb(132,132,132)"/><rect x="294.4" y="134.41" width="2.33" height="2.33" fill="rgb(133,133,133)"/><rect x="294.4" y="136.69" width="2.33" height="2.33" fill="rgb(122,122,122)"/><rect x="294.4" y="166.34" width="2.33" height="2.33" fill="rgb(122,122,122)"/><rect x="294.4" y="182.31" width="2.33" height="2.33" fill="rgb(123,123,123)"/><rect x="294.4" y="191.44" width="2.33" height="2.33" fill="rgb(123,123,123)"/><rect x="294.4" y="198.28" width="2.33" height="2.33" fill="rgb(122,122,122)"/><rect x="294.4" y="207.41" width="2.33" height="2.33" fill="rgb(122,122,122)"/><rect x="294.4" y="211.97" width="2.33" height="2.33" fill="rgb(133,133,133)"/><rect x="296.68" y="134.41" width="2.33" height="2.33" fill="rgb(132,132,132)"/><rect x="296.68" y="138.97" width="2.33" height="2.33" fill="rgb(123,123,123)"/><rect x="296.68" y="152.66" width="2.33" height="2.33" fill="rgb(132,132,132)"/><rect x="296.68" y="154.94" width="2.33" height="2.33" fill="rgb(124,124,124)"/><rect x="296.68" y="170.91" width="2.33" height="2.33" fill="rgb(122,122,122)"/><rect x="296.68" y="175.47" width="2.33" height="2.33" fill="rgb(124,124,124)"/><rect x="296.68" y="177.75" width="2.33" height="2.33" fill="rgb(123,123,123)"/><rect x="296.68" y="186.88" width="2.33" height="2.33" fill="rgb(131,131,131)"/><rect x="296.68" y="198.28" width="2.33" height="2.33" fill="rgb(132,132,132)"/><rect x="296.68" y="200.56" width="2.33" height="2.33" fill="rgb(122,122,122)"/><rect x="296.68" y="209.69" width="2.33" height="2.33" fill="rgb(131,131,131)"/><rect x="296.68" y="216.53" width="2.33" height="2.33" fill="rgb(123,123,123)"/><rect x="298.96" y="125.28" width="2.33" height="2.33" fill="rgb(135,135,135)"/><rect x="298.96" y="132.12" width="2.33" height="2.33" fill="rgb(124,124,124)"/><rect x="298.96" y="138.97" width="2.33" height="2.33" fill="rgb(123,123,123)"/><rect x="298.96" y="141.25" width="2.33" height="2.33" fill="rgb(133,133,133)"/><rect x="298.96" y="143.53" width="2.33" height="2.33" fill="rgb(132,132,132)"/><rect x="298.96" y="150.38" width="2.33" height="2.33" fill="rgb(123,123,123)"/><rect x="298.96" y="166.34" width="2.33" height="2.33" fill="rgb(133,133,133)"/><rect x="298.96" y="180.03" width="2.33" height="2.33" fill="rgb(124,124,124)"/><rect x="298.96" y="186.88" width="2.33" height="2.33" fill="rgb(123,123,123)"/><rect x="298.96" y="196" width="2.33" height="2.33" fill="rgb(131,131,131)"/><rect x="298.96" y="209.69" width="2.33" height="2.33" fill="rgb(132,132,132)"/><rect x="298.96" y="211.97" width="2.33" height="2.33" fill="rgb(123,123,123)"/><rect x="298.96" y="230.22" width="2.33" height="2.33" fill="rgb(132,132,132)"/><rect x="301.24" y="129.84" width="2.33" height="2.33" fill="rgb(131,131,131)"/><rect x="301.24" y="136.69" width="2.33" height="2.33" fill="rgb(133,133,133)"/><rect x="301.24" y="138.97" width="2.33" height="2.33" fill="rgb(123,123,123)"/><rect x="301.24" y="152.66" width="2.33" height="2.33" fill="rgb(122,122,122)"/><rect x="301.24" y="168.62" width="2.33" height="2.33" fill="rgb(132,132,132)"/><rect x="301.24" y="184.59" width="2.33" height="2.33" fill="rgb(132,132,132)"/><rect x="301.24" y="189.16" width="2.33" height="2.33" fill="rgb(124,124,124)"/><rect x="301.24" y="196" width="2.33" height="2.33" fill="rgb(122,122,122)"/><rect x="301.24" y="207.41" width="2.33" height="2.33" fill="rgb(124,124,124)"/><rect x="303.52" y="136.69" width="2.33" height="2.33" fill="rgb(131,131,131)"/><rect x="303.52" y="141.25" width="2.33" height="2.33" fill="rgb(121,121,121)"/><rect x="303.52" y="145.81" width="2.33" height="2.33" fill="rgb(132,132,132)"/><rect x="303.52" y="180.03" width="2.33" height="2.33" fill="rgb(123,123,123)"/><rect x="303.52" y="209.69" width="2.33" height="2.33" fill="rgb(133,133,133)"/><rect x="305.81" y="123" width="2.33" height="2.33" fill="rgb(122,122,122)"/><rect x="305.81" y="136.69" width="2.33" height="2.33" fill="rgb(123,123,123)"/><rect x="305.81" y="143.53" width="2.33" height="2.33" fill="rgb(123,123,123)"/><rect x="305.81" y="145.81" width="2.33" height="2.33" fill="rgb(137,137,137)"/><rect x="305.81" y="148.09" width="2.33" height="2.33" fill="rgb(131,131,131)"/><rect x="305.81" y="164.06" width="2.33" height="2.33" fill="rgb(123,123,123)"/><rect x="305.81" y="202.84" width="2.33" height="2.33" fill="rgb(132,132,132)"/><rect x="305.81" y="211.97" width="2.33" height="2.33" fill="rgb(122,122,122)"/><rect x="308.09" y="141.25" width="2.33" height="2.33" fill="rgb(133,133,133)"/><rect x="308.09" y="143.53" width="2.33" height="2.33" fill="rgb(118,118,118)"/><rect x="308.09" y="148.09" width="2.33" height="2.33" fill="rgb(133,133,133)"/><rect x="308.09" y="150.38" width="2.33" height="2.33" fill="rgb(124,124,124)"/><rect x="308.09" y="159.5" width="2.33" height="2.33" fill="rgb(132,132,132)"/><rect x="308.09" y="168.62" width="2.33" height="2.33" fill="rgb(124,124,124)"/><rect x="308.09" y="182.31" width="2.33" height="2.33" fill="rgb(133,133,133)"/><rect x="308.09" y="198.28" width="2.33" height="2.33" fill="rgb(123,123,123)"/><rect x="308.09" y="200.56" width="2.33" height="2.33" fill="rgb(124,124,124)"/><rect x="308.09" y="211.97" width="2.33" height="2.33" fill="rgb(124,124,124)"/><rect x="310.37" y="129.84" width="2.33" height="2.33" fill="rgb(123,123,123)"/><rect x="310.37" y="134.41" width="2.33" height="2.33" fill="rgb(131,131,131)"/><rect x="310.37" y="136.69" width="2.33" height="2.33" fill="rgb(124,124,124)"/><rect x="310.37" y="145.81" width="2.33" height="2.33" fill="rgb(119,119,119)"/><rect x="310.37" y="148.09" width="2.33" height="2.33" fill="rgb(135,135,135)"/><rect x="310.37" y="154.94" width="2.33" height="2.33" fill="rgb(132,132,132)"/><rect x="310.37" y="157.22" width="2.33" height="2.33" fill="rgb(132,132,132)"/><rect x="310.37" y="166.34" width="2.33" height="2.33" fill="rgb(123,123,123)"/><rect x="310.37" y="223.38" width="2.33" height="2.33" fill="rgb(133,133,133)"/><rect x="312.65" y="129.84" width="2.33" height="2.33" fill="rgb(124,124,124)"/><rect x="312.65" y="138.97" width="2.33" height="2.33" fill="rgb(123,123,123)"/><rect x="312.65" y="143.53" width="2.33" height="2.33" fill="rgb(136,136,136)"/><rect x="312.65" y="145.81" width="2.33" height="2.33" fill="rgb(121,121,121)"/><rect x="312.65" y="150.38" width="2.33" height="2.33" fill="rgb(134,134,134)"/><rect x="312.65" y="152.66" width="2.33" height="2.33" fill="rgb(121,121,121)"/><rect x="312.65" y="170.91" width="2.33" height="2.33" fill="rgb(124,124,124)"/><rect x="312.65" y="173.19" width="2.33" height="2.33" fill="rgb(124,124,124)"/><rect x="314.93" y="141.25" width="2.33" height="2.33" fill="rgb(122,122,122)"/><rect x="314.93" y="143.53" width="2.33" height="2.33" fill="rgb(134,134,134)"/><rect x="314.93" y="148.09" width="2.33" height="2.33" fill="rgb(114,114,114)"/><rect x="314.93" y="150.38" width="2.33" height="2.33" fill="rgb(140,140,140)"/><rect x="314.93" y="152.66" width="2.33" height="2.33" fill="rgb(131,131,131)"/><rect x="314.93" y="154.94" width="2.33" height="2.33" fill="rgb(122,122,122)"/><rect x="314.93" y="191.44" width="2.33" height="2.33" fill="rgb(122,122,122)"/><rect x="314.93" y="196" width="2.33" height="2.33" fill="rgb(131,131,131)"/><rect x="314.93" y="198.28" width="2.33" height="2.33" fill="rgb(124,124,124)"/><rect x="314.93" y="205.12" width="2.33" height="2.33" fill="rgb(133,133,133)"/><rect x="317.21" y="123" width="2.33" height="2.33" fill="rgb(133,133,133)"/><rect x="317.21" y="125.28" width="2.33" height="2.33" fill="rgb(124,124,124)"/><rect x="317.21" y="138.97" width="2.33" height="2.33" fill="rgb(132,132,132)"/><rect x="317.21" y="143.53" width="2.33" height="2.33" fill="rgb(124,124,124)"/><rect x="317.21" y="145.81" width="2.33" height="2.33" fill="rgb(141,141,141)"/><rect x="317.21" y="148.09" width="2.33" height="2.33" fill="rgb(123,123,123)"/><rect x="317.21" y="150.38" width="2.33" height="2.33" fill="rgb(120,120,120)"/><rect x="317.21" y="152.66" width="2.33" height="2.33" fill="rgb(146,146,146)"/><rect x="317.21" y="154.94" width="2.33" height="2.33" fill="rgb(122,122,122)"/><rect x="317.21" y="157.22" width="2.33" height="2.33" fill="rgb(124,124,124)"/><rect x="317.21" y="168.62" width="2.33" height="2.33" fill="rgb(134,134,134)"/><rect x="317.21" y="209.69" width="2.33" height="2.33" fill="rgb(122,122,122)"/><rect x="319.49" y="143.53" width="2.33" height="2.33" fill="rgb(120,120,120)"/><rect x="319.49" y="145.81" width="2.33" height="2.33" fill="rgb(134,134,134)"/><rect x="319.49" y="148.09" width="2.33" height="2.33" fill="rgb(142,142,142)"/><rect x="319.49" y="150.38" width="2.33" height="2.33" fill="rgb(104,104,104)"/><rect x="319.49" y="152.66" width="2.33" height="2.33" fill="rgb(135,135,135)"/><rect x="319.49" y="154.94" width="2.33" height="2.33" fill="rgb(140,140,140)"/><rect x="319.49" y="157.22" width="2.33" height="2.33" fill="rgb(117,117,117)"/><rect x="319.49" y="164.06" width="2.33" height="2.33" fill="rgb(124,124,124)"/><rect x="319.49" y="223.38" width="2.33" height="2.33" fill="rgb(131,131,131)"/><rect x="319.49" y="230.22" width="2.33" height="2.33" fill="rgb(132,132,132)"/><rect x="321.77" y="125.28" width="2.33" height="2.33" fill="rgb(131,131,131)"/><rect x="321.77" y="129.84" width="2.33" height="2.33" fill="rgb(123,123,123)"/><rect x="321.77" y="143.53" width="2.33" height="2.33" fill="rgb(122,122,122)"/><rect x="321.77" y="145.81" width="2.33" height="2.33" fill="rgb(123,123,123)"/><rect x="321.77" y="148.09" width="2.33" height="2.33" fill="rgb(144,144,144)"/><rect x="321.77" y="150.38" width="2.33" height="2.33" fill="rgb(117,117,117)"/><rect x="321.77" y="152.66" width="2.33" height="2.33" fill="rgb(106,106,106)"/><rect x="321.77" y="154.94" width="2.33" height="2.33" fill="rgb(160,160,160)"/><rect x="321.77" y="157.22" width="2.33" height="2.33" fill="rgb(122,122,122)"/><rect x="321.77" y="159.5" width="2.33" height="2.33" fill="rgb(117,117,117)"/><rect x="321.77" y="164.06" width="2.33" height="2.33" fill="rgb(124,124,124)"/><rect x="321.77" y="166.34" width="2.33" height="2.33" fill="rgb(131,131,131)"/><rect x="321.77" y="182.31" width="2.33" height="2.33" fill="rgb(131,131,131)"/><rect x="321.77" y="200.56" width="2.33" height="2.33" fill="rgb(124,124,124)"/><rect x="321.77" y="221.09" width="2.33" height="2.33" fill="rgb(133,133,133)"/><rect x="321.77" y="223.38" width="2.33" height="2.33" fill="rgb(133,133,133)"/><rect x="324.06" y="127.56" width="2.33" height="2.33" fill="rgb(122,122,122)"/><rect x="324.06" y="136.69" width="2.33" height="2.33" fill="rgb(132,132,132)"/><rect x="324.06" y="145.81" width="2.33" height="2.33" fill="rgb(121,121,121)"/><rect x="324.06" y="148.09" width="2.33" height="2.33" fill="rgb(131,131,131)"/><rect x="324.06" y="150.38" width="2.33" height="2.33" fill="rgb(152,152,152)"/><rect x="324.06" y="152.66" width="2.33" height="2.33" fill="rgb(82,82,82)"/><rect x="324.06" y="154.94" width="2.33" height="2.33" fill="rgb(138,138,138)"/><rect x="324.06" y="157.22" width="2.33" height="2.33" fill="rgb(162,162,162)"/><rect x="324.06" y="159.5" width="2.33" height="2.33" fill="rgb(107,107,107)"/><rect x="324.06" y="202.84" width="2.33" height="2.33" fill="rgb(132,132,132)"/><rect x="326.34" y="123" width="2.33" height="2.33" fill="rgb(131,131,131)"/><rect x="326.34" y="127.56" width="2.33" height="2.33" fill="rgb(133,133,133)"/><rect x="326.34" y="129.84" width="2.33" height="2.33" fill="rgb(124,124,124)"/><rect x="326.34" y="134.41" width="2.33" height="2.33" fill="rgb(132,132,132)"/><rect x="326.34" y="141.25" width="2.33" height="2.33" fill="rgb(131,131,131)"/><rect x="326.34" y="148.09" width="2.33" height="2.33" fill="rgb(115,115,115)"/><rect x="326.34" y="150.38" width="2.33" height="2.33" fill="rgb(159,159,159)"/><rect x="326.34" y="152.66" width="2.33" height="2.33" fill="rgb(122,122,122)"/><rect x="326.34" y="154.94" width="2.33" height="2.33" fill="rgb(67,67,67)"/><rect x="326.34" y="157.22" width="2.33" height="2.33" fill="rgb(189,189,189)"/><rect x="326.34" y="161.78" width="2.33" height="2.33" fill="rgb(107,107,107)"/><rect x="326.34" y="164.06" width="2.33" height="2.33" fill="rgb(137,137,137)"/><rect x="326.34" y="186.88" width="2.33" height="2.33" fill="rgb(123,123,123)"/><rect x="326.34" y="193.72" width="2.33" height="2.33" fill="rgb(132,132,132)"/><rect x="326.34" y="225.66" width="2.33" height="2.33" fill="rgb(132,132,132)"/><rect x="328.62" y="145.81" width="2.33" height="2.33" fill="rgb(133,133,133)"/><rect x="328.62" y="148.09" width="2.33" height="2.33" fill="rgb(121,121,121)"/><rect x="328.62" y="152.66" width="2.33" height="2.33" fill="rgb(175,175,175)"/><rect x="328.62" y="154.94" width="2.33" height="2.33" fill="rgb(46,46,46)"/><rect x="328.62" y="159.5" width="2.33" height="2.33" fill="rgb(197,197,197)"/><rect x="328.62" y="161.78" width="2.33" height="2.33" fill="rgb(92,92,92)"/><rect x="328.62" y="164.06" width="2.33" height="2.33" fill="rgb(122,122,122)"/><rect x="328.62" y="166.34" width="2.33" height="2.33" fill="rgb(136,136,136)"/><rect x="328.62" y="221.09" width="2.33" height="2.33" fill="rgb(132,132,132)"/><rect x="328.62" y="225.66" width="2.33" height="2.33" fill="rgb(123,123,123)"/><rect x="328.62" y="230.22" width="2.33" height="2.33" fill="rgb(132,132,132)"/><rect x="330.9" y="125.28" width="2.33" height="2.33" fill="rgb(124,124,124)"/><rect x="330.9" y="150.38" width="2.33" height="2.33" fill="rgb(109,109,109)"/><rect x="330.9" y="152.66" width="2.33" height="2.33" fill="rgb(178,178,178)"/><rect x="330.9" y="154.94" width="2.33" height="2.33" fill="rgb(134,134,134)"/><rect x="330.9" y="157.22" width="2.33" height="2.33" fill="rgb(8,8,8)"/><rect x="330.9" y="159.5" width="2.33" height="2.33" fill="rgb(216,216,216)"/><rect x="330.9" y="161.78" width="2.33" height="2.33" fill="rgb(146,146,146)"/><rect x="330.9" y="164.06" width="2.33" height="2.33" fill="rgb(98,98,98)"/><rect x="330.9" y="166.34" width="2.33" height="2.33" fill="rgb(140,140,140)"/><rect x="330.9" y="205.12" width="2.33" height="2.33" fill="rgb(133,133,133)"/><rect x="330.9" y="216.53" width="2.33" height="2.33" fill="rgb(131,131,131)"/><rect x="330.9" y="230.22" width="2.33" height="2.33" fill="rgb(133,133,133)"/><rect x="333.18" y="127.56" width="2.33" height="2.33" fill="rgb(131,131,131)"/><rect x="333.18" y="150.38" width="2.33" height="2.33" fill="rgb(115,115,115)"/><rect x="333.18" y="152.66" width="2.33" height="2.33" fill="rgb(119,119,119)"/><rect x="333.18" y="154.94" width="2.33" height="2.33" fill="rgb(215,215,215)"/><rect x="333.18" y="157.22" width="2.33" height="2.33" fill="rgb(16,16,16)"/><rect x="333.18" y="159.5" width="2.33" height="2.33" fill="rgb(84,84,84)"/><rect x="333.18" y="161.78" width="2.33" height="2.33" fill="rgb(246,246,246)"/><rect x="333.18" y="164.06" width="2.33" height="2.33" fill="rgb(83,83,83)"/><rect x="333.18" y="166.34" width="2.33" height="2.33" fill="rgb(119,119,119)"/><rect x="333.18" y="168.62" width="2.33" height="2.33" fill="rgb(138,138,138)"/><rect x="333.18" y="170.91" width="2.33" height="2.33" fill="rgb(123,123,123)"/><rect x="333.18" y="202.84" width="2.33" height="2.33" fill="rgb(121,121,121)"/><rect x="335.46" y="132.12" width="2.33" height="2.33" fill="rgb(124,124,124)"/><rect x="335.46" y="136.69" width="2.33" height="2.33" fill="rgb(131,131,131)"/><rect x="335.46" y="143.53" width="2.33" height="2.33" fill="rgb(132,132,132)"/><rect x="335.46" y="145.81" width="2.33" height="2.33" fill="rgb(133,133,133)"/><rect x="335.46" y="148.09" width="2.33" height="2.33" fill="rgb(123,123,123)"/><rect x="335.46" y="152.66" width="2.33" height="2.33" fill="rgb(104,104,104)"/><rect x="335.46" y="154.94" width="2.33" height="2.33" fill="rgb(181,181,181)"/><rect x="335.46" y="157.22" width="2.33" height="2.33" fill="rgb(167,167,167)"/><rect x="335.46" y="159.5" width="2.33" height="2.33" fill="rgb(0,0,0)"/><rect x="335.46" y="161.78" width="2.33" height="2.33" fill="rgb(227,227,227)"/><rect x="335.46" y="164.06" width="2.33" height="2.33" fill="rgb(170,170,170)"/><rect x="335.46" y="166.34" width="2.33" height="2.33" fill="rgb(82,82,82)"/><rect x="335.46" y="168.62" width="2.33" height="2.33" fill="rgb(136,136,136)"/><rect x="335.46" y="191.44" width="2.33" height="2.33" fill="rgb(124,124,124)"/><rect x="335.46" y="202.84" width="2.33" height="2.33" fill="rgb(133,133,133)"/><rect x="335.46" y="211.97" width="2.33" height="2.33" fill="rgb(122,122,122)"/><rect x="335.46" y="225.66" width="2.33" height="2.33" fill="rgb(124,124,124)"/><rect x="337.74" y="127.56" width="2.33" height="2.33" fill="rgb(124,124,124)"/><rect x="337.74" y="145.81" width="2.33" height="2.33" fill="rgb(132,132,132)"/><rect x="337.74" y="150.38" width="2.33" height="2.33" fill="rgb(132,132,132)"/><rect x="337.74" y="152.66" width="2.33" height="2.33" fill="rgb(112,112,112)"/><rect x="337.74" y="154.94" width="2.33" height="2.33" fill="rgb(109,109,109)"/><rect x="337.74" y="157.22" width="2.33" height="2.33" fill="rgb(244,244,244)"/><rect x="337.74" y="159.5" width="2.33" height="2.33" fill="rgb(21,21,21)"/><rect x="337.74" y="161.78" width="2.33" height="2.33" fill="rgb(37,37,37)"/><rect x="337.74" y="164.06" width="2.33" height="2.33" fill="rgb(255,255,255)"/><rect x="337.74" y="166.34" width="2.33" height="2.33" fill="rgb(92,92,92)"/><rect x="337.74" y="168.62" width="2.33" height="2.33" fill="rgb(108,108,108)"/><rect x="337.74" y="170.91" width="2.33" height="2.33" fill="rgb(135,135,135)"/><rect x="337.74" y="202.84" width="2.33" height="2.33" fill="rgb(132,132,132)"/><rect x="337.74" y="211.97" width="2.33" height="2.33" fill="rgb(133,133,133)"/><rect x="337.74" y="214.25" width="2.33" height="2.33" fill="rgb(121,121,121)"/><rect x="337.74" y="227.94" width="2.33" height="2.33" fill="rgb(131,131,131)"/><rect x="340.02" y="132.12" width="2.33" height="2.33" fill="rgb(132,132,132)"/><rect x="340.02" y="154.94" width="2.33" height="2.33" fill="rgb(95,95,95)"/><rect x="340.02" y="157.22" width="2.33" height="2.33" fill="rgb(173,173,173)"/><rect x="340.02" y="159.5" width="2.33" height="2.33" fill="rgb(205,205,205)"/><rect x="340.02" y="161.78" width="2.33" height="2.33" fill="rgb(0,0,0)"/><rect x="340.02" y="164.06" width="2.33" height="2.33" fill="rgb(203,203,203)"/><rect x="340.02" y="166.34" width="2.33" height="2.33" fill="rgb(190,190,190)"/><rect x="340.02" y="168.62" width="2.33" height="2.33" fill="rgb(82,82,82)"/><rect x="340.02" y="170.91" width="2.33" height="2.33" fill="rgb(134,134,134)"/><rect x="342.31" y="152.66" width="2.33" height="2.33" fill="rgb(133,133,133)"/><rect x="342.31" y="154.94" width="2.33" height="2.33" fill="rgb(118,118,118)"/><rect x="342.31" y="157.22" width="2.33" height="2.33" fill="rgb(100,100,100)"/><rect x="342.31" y="159.5" width="2.33" height="2.33" fill="rgb(244,244,244)"/><rect x="342.31" y="161.78" width="2.33" height="2.33" fill="rgb(60,60,60)"/><rect x="342.31" y="164.06" width="2.33" height="2.33" fill="rgb(8,8,8)"/><rect x="342.31" y="166.34" width="2.33" height="2.33" fill="rgb(255,255,255)"/><rect x="342.31" y="168.62" width="2.33" height="2.33" fill="rgb(108,108,108)"/><rect x="342.31" y="170.91" width="2.33" height="2.33" fill="rgb(110,110,110)"/><rect x="342.31" y="173.19" width="2.33" height="2.33" fill="rgb(133,133,133)"/><rect x="342.31" y="180.03" width="2.33" height="2.33" fill="rgb(122,122,122)"/><rect x="342.31" y="209.69" width="2.33" height="2.33" fill="rgb(132,132,132)"/><rect x="344.59" y="125.28" width="2.33" height="2.33" fill="rgb(132,132,132)"/><rect x="344.59" y="157.22" width="2.33" height="2.33" fill="rgb(96,96,96)"/><rect x="344.59" y="159.5" width="2.33" height="2.33" fill="rgb(151,151,151)"/><rect x="344.59" y="161.78" width="2.33" height="2.33" fill="rgb(220,220,220)"/><rect x="344.59" y="164.06" width="2.33" height="2.33" fill="rgb(0,0,0)"/><rect x="344.59" y="166.34" width="2.33" height="2.33" fill="rgb(156,156,156)"/><rect x="344.59" y="168.62" width="2.33" height="2.33" fill="rgb(197,197,197)"/><rect x="344.59" y="170.91" width="2.33" height="2.33" fill="rgb(91,91,91)"/><rect x="344.59" y="175.47" width="2.33" height="2.33" fill="rgb(132,132,132)"/><rect x="344.59" y="200.56" width="2.33" height="2.33" fill="rgb(124,124,124)"/><rect x="344.59" y="227.94" width="2.33" height="2.33" fill="rgb(122,122,122)"/><rect x="346.87" y="145.81" width="2.33" height="2.33" fill="rgb(133,133,133)"/><rect x="346.87" y="154.94" width="2.33" height="2.33" fill="rgb(136,136,136)"/><rect x="346.87" y="157.22" width="2.33" height="2.33" fill="rgb(124,124,124)"/><rect x="346.87" y="159.5" width="2.33" height="2.33" fill="rgb(101,101,101)"/><rect x="346.87" y="161.78" width="2.33" height="2.33" fill="rgb(208,208,208)"/><rect x="346.87" y="164.06" width="2.33" height="2.33" fill="rgb(104,104,104)"/><rect x="346.87" y="166.34" width="2.33" height="2.33" fill="rgb(23,23,23)"/><rect x="346.87" y="168.62" width="2.33" height="2.33" fill="rgb(212,212,212)"/><rect x="346.87" y="173.19" width="2.33" height="2.33" fill="rgb(111,111,111)"/><rect x="346.87" y="175.47" width="2.33" height="2.33" fill="rgb(132,132,132)"/><rect x="346.87" y="182.31" width="2.33" height="2.33" fill="rgb(132,132,132)"/><rect x="346.87" y="193.72" width="2.33" height="2.33" fill="rgb(124,124,124)"/><rect x="346.87" y="214.25" width="2.33" height="2.33" fill="rgb(121,121,121)"/><rect x="346.87" y="216.53" width="2.33" height="2.33" fill="rgb(123,123,123)"/><rect x="349.15" y="157.22" width="2.33" height="2.33" fill="rgb(136,136,136)"/><rect x="349.15" y="159.5" width="2.33" height="2.33" fill="rgb(109,109,109)"/><rect x="349.15" y="161.78" width="2.33" height="2.33" fill="rgb(132,132,132)"/><rect x="349.15" y="164.06" width="2.33" height="2.33" fill="rgb(198,198,198)"/><rect x="349.15" y="166.34" width="2.33" height="2.33" fill="rgb(35,35,35)"/><rect x="349.15" y="170.91" width="2.33" height="2.33" fill="rgb(175,175,175)"/><rect x="349.15" y="173.19" width="2.33" height="2.33" fill="rgb(106,106,106)"/><rect x="349.15" y="177.75" width="2.33" height="2.33" fill="rgb(132,132,132)"/><rect x="349.15" y="196" width="2.33" height="2.33" fill="rgb(131,131,131)"/><rect x="349.15" y="225.66" width="2.33" height="2.33" fill="rgb(131,131,131)"/><rect x="351.43" y="132.12" width="2.33" height="2.33" fill="rgb(123,123,123)"/><rect x="351.43" y="138.97" width="2.33" height="2.33" fill="rgb(123,123,123)"/><rect x="351.43" y="157.22" width="2.33" height="2.33" fill="rgb(133,133,133)"/><rect x="351.43" y="161.78" width="2.33" height="2.33" fill="rgb(109,109,109)"/><rect x="351.43" y="164.06" width="2.33" height="2.33" fill="rgb(173,173,173)"/><rect x="351.43" y="168.62" width="2.33" height="2.33" fill="rgb(60,60,60)"/><rect x="351.43" y="170.91" width="2.33" height="2.33" fill="rgb(172,172,172)"/><rect x="351.43" y="173.19" width="2.33" height="2.33" fill="rgb(136,136,136)"/><rect x="351.43" y="175.47" width="2.33" height="2.33" fill="rgb(118,118,118)"/><rect x="351.43" y="177.75" width="2.33" height="2.33" fill="rgb(134,134,134)"/><rect x="351.43" y="216.53" width="2.33" height="2.33" fill="rgb(131,131,131)"/><rect x="353.71" y="123" width="2.33" height="2.33" fill="rgb(123,123,123)"/><rect x="353.71" y="161.78" width="2.33" height="2.33" fill="rgb(119,119,119)"/><rect x="353.71" y="166.34" width="2.33" height="2.33" fill="rgb(171,171,171)"/><rect x="353.71" y="168.62" width="2.33" height="2.33" fill="rgb(88,88,88)"/><rect x="353.71" y="170.91" width="2.33" height="2.33" fill="rgb(115,115,115)"/><rect x="353.71" y="173.19" width="2.33" height="2.33" fill="rgb(157,157,157)"/><rect x="353.71" y="175.47" width="2.33" height="2.33" fill="rgb(118,118,118)"/><rect x="353.71" y="184.59" width="2.33" height="2.33" fill="rgb(132,132,132)"/><rect x="353.71" y="189.16" width="2.33" height="2.33" fill="rgb(131,131,131)"/><rect x="353.71" y="191.44" width="2.33" height="2.33" fill="rgb(124,124,124)"/><rect x="353.71" y="193.72" width="2.33" height="2.33" fill="rgb(131,131,131)"/><rect x="353.71" y="221.09" width="2.33" height="2.33" fill="rgb(131,131,131)"/><rect x="355.99" y="145.81" width="2.33" height="2.33" fill="rgb(133,133,133)"/><rect x="355.99" y="164.06" width="2.33" height="2.33" fill="rgb(112,112,112)"/><rect x="355.99" y="166.34" width="2.33" height="2.33" fill="rgb(145,145,145)"/><rect x="355.99" y="168.62" width="2.33" height="2.33" fill="rgb(137,137,137)"/><rect x="355.99" y="170.91" width="2.33" height="2.33" fill="rgb(94,94,94)"/><rect x="355.99" y="173.19" width="2.33" height="2.33" fill="rgb(144,144,144)"/><rect x="355.99" y="175.47" width="2.33" height="2.33" fill="rgb(136,136,136)"/><rect x="355.99" y="177.75" width="2.33" height="2.33" fill="rgb(117,117,117)"/><rect x="355.99" y="198.28" width="2.33" height="2.33" fill="rgb(123,123,123)"/><rect x="355.99" y="221.09" width="2.33" height="2.33" fill="rgb(123,123,123)"/><rect x="358.27" y="129.84" width="2.33" height="2.33" fill="rgb(131,131,131)"/><rect x="358.27" y="164.06" width="2.33" height="2.33" fill="rgb(121,121,121)"/><rect x="358.27" y="166.34" width="2.33" height="2.33" fill="rgb(124,124,124)"/><rect x="358.27" y="168.62" width="2.33" height="2.33" fill="rgb(148,148,148)"/><rect x="358.27" y="170.91" width="2.33" height="2.33" fill="rgb(111,111,111)"/><rect x="358.27" y="173.19" width="2.33" height="2.33" fill="rgb(116,116,116)"/><rect x="358.27" y="175.47" width="2.33" height="2.33" fill="rgb(144,144,144)"/><rect x="358.27" y="177.75" width="2.33" height="2.33" fill="rgb(124,124,124)"/><rect x="358.27" y="180.03" width="2.33" height="2.33" fill="rgb(124,124,124)"/><rect x="358.27" y="186.88" width="2.33" height="2.33" fill="rgb(124,124,124)"/><rect x="358.27" y="196" width="2.33" height="2.33" fill="rgb(132,132,132)"/><rect x="360.56" y="127.56" width="2.33" height="2.33" fill="rgb(132,132,132)"/><rect x="360.56" y="166.34" width="2.33" height="2.33" fill="rgb(117,117,117)"/><rect x="360.56" y="168.62" width="2.33" height="2.33" fill="rgb(132,132,132)"/><rect x="360.56" y="170.91" width="2.33" height="2.33" fill="rgb(136,136,136)"/><rect x="360.56" y="173.19" width="2.33" height="2.33" fill="rgb(108,108,108)"/><rect x="360.56" y="175.47" width="2.33" height="2.33" fill="rgb(133,133,133)"/><rect x="360.56" y="177.75" width="2.33" height="2.33" fill="rgb(134,134,134)"/><rect x="360.56" y="184.59" width="2.33" height="2.33" fill="rgb(132,132,132)"/><rect x="360.56" y="200.56" width="2.33" height="2.33" fill="rgb(124,124,124)"/><rect x="360.56" y="209.69" width="2.33" height="2.33" fill="rgb(122,122,122)"/><rect x="360.56" y="225.66" width="2.33" height="2.33" fill="rgb(131,131,131)"/><rect x="362.84" y="145.81" width="2.33" height="2.33" fill="rgb(123,123,123)"/><rect x="362.84" y="159.5" width="2.33" height="2.33" fill="rgb(132,132,132)"/><rect x="362.84" y="170.91" width="2.33" height="2.33" fill="rgb(137,137,137)"/><rect x="362.84" y="173.19" width="2.33" height="2.33" fill="rgb(119,119,119)"/><rect x="362.84" y="175.47" width="2.33" height="2.33" fill="rgb(114,114,114)"/><rect x="362.84" y="177.75" width="2.33" height="2.33" fill="rgb(135,135,135)"/><rect x="362.84" y="191.44" width="2.33" height="2.33" fill="rgb(124,124,124)"/><rect x="362.84" y="207.41" width="2.33" height="2.33" fill="rgb(121,121,121)"/><rect x="362.84" y="218.81" width="2.33" height="2.33" fill="rgb(124,124,124)"/><rect x="362.84" y="223.38" width="2.33" height="2.33" fill="rgb(124,124,124)"/><rect x="365.12" y="143.53" width="2.33" height="2.33" fill="rgb(131,131,131)"/><rect x="365.12" y="148.09" width="2.33" height="2.33" fill="rgb(131,131,131)"/><rect x="365.12" y="168.62" width="2.33" height="2.33" fill="rgb(122,122,122)"/><rect x="365.12" y="173.19" width="2.33" height="2.33" fill="rgb(134,134,134)"/><rect x="365.12" y="175.47" width="2.33" height="2.33" fill="rgb(114,114,114)"/><rect x="365.12" y="180.03" width="2.33" height="2.33" fill="rgb(134,134,134)"/><rect x="365.12" y="182.31" width="2.33" height="2.33" fill="rgb(122,122,122)"/><rect x="365.12" y="230.22" width="2.33" height="2.33" fill="rgb(124,124,124)"/><rect x="367.4" y="125.28" width="2.33" height="2.33" fill="rgb(123,123,123)"/><rect x="367.4" y="134.41" width="2.33" height="2.33" fill="rgb(131,131,131)"/><rect x="367.4" y="136.69" width="2.33" height="2.33" fill="rgb(132,132,132)"/><rect x="367.4" y="164.06" width="2.33" height="2.33" fill="rgb(132,132,132)"/><rect x="367.4" y="170.91" width="2.33" height="2.33" fill="rgb(121,121,121)"/><rect x="367.4" y="173.19" width="2.33" height="2.33" fill="rgb(137,137,137)"/><rect x="367.4" y="177.75" width="2.33" height="2.33" fill="rgb(121,121,121)"/><rect x="367.4" y="180.03" width="2.33" height="2.33" fill="rgb(133,133,133)"/><rect x="369.68" y="152.66" width="2.33" height="2.33" fill="rgb(133,133,133)"/><rect x="369.68" y="170.91" width="2.33" height="2.33" fill="rgb(122,122,122)"/><rect x="369.68" y="175.47" width="2.33" height="2.33" fill="rgb(136,136,136)"/><rect x="369.68" y="177.75" width="2.33" height="2.33" fill="rgb(117,117,117)"/><rect x="369.68" y="182.31" width="2.33" height="2.33" fill="rgb(133,133,133)"/><rect x="369.68" y="207.41" width="2.33" height="2.33" fill="rgb(131,131,131)"/><rect x="369.68" y="209.69" width="2.33" height="2.33" fill="rgb(133,133,133)"/><rect x="369.68" y="225.66" width="2.33" height="2.33" fill="rgb(133,133,133)"/><rect x="371.96" y="129.84" width="2.33" height="2.33" fill="rgb(132,132,132)"/><rect x="371.96" y="141.25" width="2.33" height="2.33" fill="rgb(124,124,124)"/><rect x="371.96" y="150.38" width="2.33" height="2.33" fill="rgb(132,132,132)"/><rect x="371.96" y="154.94" width="2.33" height="2.33" fill="rgb(124,124,124)"/><rect x="371.96" y="168.62" width="2.33" height="2.33" fill="rgb(131,131,131)"/><rect x="371.96" y="175.47" width="2.33" height="2.33" fill="rgb(138,138,138)"/><rect x="371.96" y="180.03" width="2.33" height="2.33" fill="rgb(121,121,121)"/><rect x="371.96" y="182.31" width="2.33" height="2.33" fill="rgb(134,134,134)"/><rect x="371.96" y="186.88" width="2.33" height="2.33" fill="rgb(120,120,120)"/><rect x="371.96" y="207.41" width="2.33" height="2.33" fill="rgb(124,124,124)"/><rect x="371.96" y="214.25" width="2.33" height="2.33" fill="rgb(132,132,132)"/><rect x="374.24" y="129.84" width="2.33" height="2.33" fill="rgb(133,133,133)"/><rect x="374.24" y="173.19" width="2.33" height="2.33" fill="rgb(124,124,124)"/><rect x="374.24" y="180.03" width="2.33" height="2.33" fill="rgb(123,123,123)"/><rect x="374.24" y="182.31" width="2.33" height="2.33" fill="rgb(123,123,123)"/><rect x="374.24" y="184.59" width="2.33" height="2.33" fill="rgb(132,132,132)"/><rect x="374.24" y="189.16" width="2.33" height="2.33" fill="rgb(131,131,131)"/><rect x="374.24" y="196" width="2.33" height="2.33" fill="rgb(132,132,132)"/><rect x="374.24" y="230.22" width="2.33" height="2.33" fill="rgb(124,124,124)"/><rect x="376.52" y="182.31" width="2.33" height="2.33" fill="rgb(120,120,120)"/><rect x="376.52" y="184.59" width="2.33" height="2.33" fill="rgb(132,132,132)"/><rect x="376.52" y="189.16" width="2.33" height="2.33" fill="rgb(122,122,122)"/><rect x="376.52" y="191.44" width="2.33" height="2.33" fill="rgb(123,123,123)"/><rect x="376.52" y="223.38" width="2.33" height="2.33" fill="rgb(124,124,124)"/><rect x="376.52" y="227.94" width="2.33" height="2.33" fill="rgb(131,131,131)"/><rect x="378.81" y="123" width="2.33" height="2.33" fill="rgb(124,124,124)"/><rect x="378.81" y="125.28" width="2.33" height="2.33" fill="rgb(123,123,123)"/><rect x="378.81" y="141.25" width="2.33" height="2.33" fill="rgb(124,124,124)"/><rect x="378.81" y="157.22" width="2.33" height="2.33" fill="rgb(132,132,132)"/><rect x="378.81" y="182.31" width="2.33" height="2.33" fill="rgb(122,122,122)"/><rect x="378.81" y="189.16" width="2.33" height="2.33" fill="rgb(132,132,132)"/><rect x="378.81" y="191.44" width="2.33" height="2.33" fill="rgb(122,122,122)"/><rect x="378.81" y="202.84" width="2.33" height="2.33" fill="rgb(131,131,131)"/><rect x="378.81" y="223.38" width="2.33" height="2.33" fill="rgb(122,122,122)"/><rect x="381.09" y="125.28" width="2.33" height="2.33" fill="rgb(124,124,124)"/><rect x="381.09" y="132.12" width="2.33" height="2.33" fill="rgb(124,124,124)"/><rect x="381.09" y="170.91" width="2.33" height="2.33" fill="rgb(132,132,132)"/><rect x="381.09" y="180.03" width="2.33" height="2.33" fill="rgb(132,132,132)"/><rect x="381.09" y="184.59" width="2.33" height="2.33" fill="rgb(122,122,122)"/><rect x="381.09" y="211.97" width="2.33" height="2.33" fill="rgb(132,132,132)"/><rect x="381.09" y="230.22" width="2.33" height="2.33" fill="rgb(123,123,123)"/><rect x="383.37" y="173.19" width="2.33" height="2.33" fill="rgb(123,123,123)"/><rect x="383.37" y="175.47" width="2.33" height="2.33" fill="rgb(133,133,133)"/><rect x="383.37" y="182.31" width="2.33" height="2.33" fill="rgb(132,132,132)"/><rect x="383.37" y="189.16" width="2.33" height="2.33" fill="rgb(133,133,133)"/><rect x="383.37" y="191.44" width="2.33" height="2.33" fill="rgb(123,123,123)"/><rect x="383.37" y="193.72" width="2.33" height="2.33" fill="rgb(123,123,123)"/><rect x="383.37" y="196" width="2.33" height="2.33" fill="rgb(132,132,132)"/><rect x="385.65" y="159.5" width="2.33" height="2.33" fill="rgb(131,131,131)"/><rect x="385.65" y="214.25" width="2.33" height="2.33" fill="rgb(132,132,132)"/><rect x="387.93" y="148.09" width="2.33" height="2.33" fill="rgb(122,122,122)"/><rect x="387.93" y="150.38" width="2.33" height="2.33" fill="rgb(131,131,131)"/><rect x="387.93" y="159.5" width="2.33" height="2.33" fill="rgb(132,132,132)"/><rect x="387.93" y="161.78" width="2.33" height="2.33" fill="rgb(123,123,123)"/><rect x="387.93" y="166.34" width="2.33" height="2.33" fill="rgb(123,123,123)"/><rect x="387.93" y="175.47" width="2.33" height="2.33" fill="rgb(124,124,124)"/><rect x="390.21" y="152.66" width="2.33" height="2.33" fill="rgb(131,131,131)"/><rect x="390.21" y="159.5" width="2.33" height="2.33" fill="rgb(131,131,131)"/><rect x="390.21" y="161.78" width="2.33" height="2.33" fill="rgb(123,123,123)"/><rect x="390.21" y="168.62" width="2.33" height="2.33" fill="rgb(121,121,121)"/><rect x="390.21" y="189.16" width="2.33" height="2.33" fill="rgb(123,123,123)"/><rect x="390.21" y="216.53" width="2.33" height="2.33" fill="rgb(122,122,122)"/><rect x="392.49" y="161.78" width="2.33" height="2.33" fill="rgb(132,132,132)"/><rect x="392.49" y="209.69" width="2.33" height="2.33" fill="rgb(123,123,123)"/><rect x="392.49" y="211.97" width="2.33" height="2.33" fill="rgb(131,131,131)"/><rect x="392.49" y="218.81" width="2.33" height="2.33" fill="rgb(134,134,134)"/><rect x="392.49" y="221.09" width="2.33" height="2.33" fill="rgb(133,133,133)"/><rect x="392.49" y="227.94" width="2.33" height="2.33" fill="rgb(133,133,133)"/><rect x="394.77" y="132.12" width="2.33" height="2.33" fill="rgb(133,133,133)"/><rect x="394.77" y="136.69" width="2.33" height="2.33" fill="rgb(120,120,120)"/><rect x="394.77" y="196" width="2.33" height="2.33" fill="rgb(132,132,132)"/><rect x="394.77" y="200.56" width="2.33" height="2.33" fill="rgb(131,131,131)"/><rect x="397.06" y="138.97" width="2.33" height="2.33" fill="rgb(131,131,131)"/><rect x="397.06" y="202.84" width="2.33" height="2.33" fill="rgb(122,122,122)"/><rect x="397.06" y="221.09" width="2.33" height="2.33" fill="rgb(122,122,122)"/><rect x="399.34" y="125.28" width="2.33" height="2.33" fill="rgb(124,124,124)"/><rect x="399.34" y="154.94" width="2.33" height="2.33" fill="rgb(122,122,122)"/><rect x="399.34" y="157.22" width="2.33" height="2.33" fill="rgb(124,124,124)"/><rect x="399.34" y="168.62" width="2.33" height="2.33" fill="rgb(124,124,124)"/><rect x="399.34" y="177.75" width="2.33" height="2.33" fill="rgb(131,131,131)"/><rect x="399.34" y="180.03" width="2.33" height="2.33" fill="rgb(131,131,131)"/><rect x="399.34" y="186.88" width="2.33" height="2.33" fill="rgb(124,124,124)"/><rect x="399.34" y="189.16" width="2.33" height="2.33" fill="rgb(123,123,123)"/><rect x="399.34" y="193.72" width="2.33" height="2.33" fill="rgb(132,132,132)"/><rect x="399.34" y="211.97" width="2.33" height="2.33" fill="rgb(131,131,131)"/><rect x="399.34" y="227.94" width="2.33" height="2.33" fill="rgb(133,133,133)"/><rect x="401.62" y="129.84" width="2.33" height="2.33" fill="rgb(131,131,131)"/><rect x="401.62" y="134.41" width="2.33" height="2.33" fill="rgb(124,124,124)"/><rect x="401.62" y="166.34" width="2.33" height="2.33" fill="rgb(124,124,124)"/><rect x="401.62" y="180.03" width="2.33" height="2.33" fill="rgb(133,133,133)"/><rect x="401.62" y="191.44" width="2.33" height="2.33" fill="rgb(134,134,134)"/><rect x="401.62" y="227.94" width="2.33" height="2.33" fill="rgb(122,122,122)"/><rect x="401.62" y="230.22" width="2.33" height="2.33" fill="rgb(133,133,133)"/></g></g></g>
<rect x="294.9" y="123.5" width="108.5" height="108.1" fill="none" stroke="#c03c3c" stroke-width="1.8"/>
<polygon points="313.7,201.2 334.87,189.03 328.84,184.9 357.9,142.42 363.93,146.54 367.6,122.4 346.43,134.57 352.46,138.7 323.4,181.18 317.37,177.06" fill="#FFCB6B" stroke="#000" stroke-width="0.8" stroke-linejoin="miter"/>
<svg x="557.7" y="2" width="108.2" height="108.2" viewBox="294.9 123.5 108.2 108.2" overflow="hidden">
<rect x="280" y="110" width="140" height="140" fill="#fff"/>
<g filter="url(#blur3)"><polygon points="303.64,127.37 386.64,181.22 332.73,264.15 250.85,209.74" fill="none" stroke="#000" stroke-width="19" stroke-linejoin="miter"/></g>
</svg>
<rect x="557.2" y="1.5" width="109.2" height="109.2" fill="none" stroke="#000" stroke-width="2.1"/>
<svg x="557.7" y="126.2" width="108.2" height="108.2" viewBox="294.9 123.5 108.2 108.2" overflow="hidden">
<rect x="280" y="110" width="140" height="140" fill="#fff"/>
<g filter="url(#blur2)"><path d="M306.5,140.5 L297.8,158.51 A20,20 0 1 1 321.87,153.3 Z" fill="#000"/><path d="M373.5,184 L355.52,175.23 A20,20 0 1 1 360.65,199.32 Z" fill="#000"/><path d="M330,251 L338.87,233.08 A20,20 0 1 1 314.76,238.05 Z" fill="#000"/><path d="M264,207 L281.95,215.81 A20,20 0 1 1 276.89,191.71 Z" fill="#000"/></g>
</svg>
<rect x="557.2" y="125.7" width="109.2" height="109.2" fill="none" stroke="#ff0000" stroke-width="2.1"/>
<svg x="557.7" y="249.8" width="108.2" height="108.2" viewBox="294.9 123.5 108.2 108.2" overflow="hidden">
<rect x="280" y="110" width="140" height="140" fill="#fff"/>
<g filter="url(#blur2)"><path d="M306.5,140.5 L297.8,158.51 A20,20 0 1 1 321.87,153.3 Z" fill="#000"/><path d="M373.5,184 L391.48,192.77 A20,20 0 1 1 386.35,168.68 Z" fill="#000"/><path d="M330,251 L321.13,268.92 A20,20 0 1 1 345.24,263.95 Z" fill="#000"/><path d="M264,207 L246.05,198.19 A20,20 0 1 1 251.11,222.29 Z" fill="#000"/></g>
</svg>
<rect x="557.2" y="249.3" width="109.2" height="109.2" fill="none" stroke="#bf00bf" stroke-width="2.1"/>
<defs>
<clipPath id="cb"><rect x="825.5" y="77.9" width="451.5" height="278.7"/></clipPath>
</defs>
<line x1="825.5" y1="83.9" x2="825.5" y2="357.3" stroke="#000" stroke-width="1.4"/>
<line x1="824.8" y1="356.6" x2="1271" y2="356.6" stroke="#000" stroke-width="1.4"/>
<line x1="835.8" y1="356.6" x2="835.8" y2="361.2" stroke="#000" stroke-width="1.3"/>
<text x="835.8" y="383.9" font-size="26" text-anchor="middle">−1.0</text>
<line x1="941.77" y1="356.6" x2="941.77" y2="361.2" stroke="#000" stroke-width="1.3"/>
<text x="941.77" y="383.9" font-size="26" text-anchor="middle">−0.5</text>
<line x1="1047.75" y1="356.6" x2="1047.75" y2="361.2" stroke="#000" stroke-width="1.3"/>
<text x="1047.75" y="383.9" font-size="26" text-anchor="middle">0.0</text>
<line x1="1153.72" y1="356.6" x2="1153.72" y2="361.2" stroke="#000" stroke-width="1.3"/>
<text x="1153.72" y="383.9" font-size="26" text-anchor="middle">0.5</text>
<line x1="1259.7" y1="356.6" x2="1259.7" y2="361.2" stroke="#000" stroke-width="1.3"/>
<text x="1259.7" y="383.9" font-size="26" text-anchor="middle">1.0</text>
<line x1="820.9" y1="320.5" x2="825.5" y2="320.5" stroke="#000" stroke-width="1.3"/>
<text x="816.2" y="329.7" font-size="26" text-anchor="end">0</text>
<line x1="820.9" y1="138.5" x2="825.5" y2="138.5" stroke="#000" stroke-width="1.3"/>
<text x="816.2" y="147.7" font-size="26" text-anchor="end">1</text>
<text x="1048.25" y="412" font-size="26" text-anchor="middle">Figural position [pixels]</text>
<text x="793" y="220.25" font-size="26" text-anchor="middle" transform="rotate(-90 793 220.25)">Model response</text>
<g clip-path="url(#cb)">
<polyline points="835.8,371.46 862.29,327.6 888.79,285.19 915.28,246.79 941.77,208.21 968.27,182.73 994.76,161.25 1021.26,146.69 1047.75,138.5 1074.24,139.77 1100.74,147.78 1127.23,160.52 1153.72,179.63 1180.22,208.21 1206.71,236.78 1233.21,270.45 1259.7,305.76" fill="none" stroke="#000" stroke-width="2.8" stroke-linejoin="round" stroke-linecap="butt"/>
<circle cx="835.8" cy="371.46" r="3.6" fill="#000"/>
<circle cx="862.29" cy="327.6" r="3.6" fill="#000"/>
<circle cx="888.79" cy="285.19" r="3.6" fill="#000"/>
<circle cx="915.28" cy="246.79" r="3.6" fill="#000"/>
<circle cx="941.77" cy="208.21" r="3.6" fill="#000"/>
<circle cx="968.27" cy="182.73" r="3.6" fill="#000"/>
<circle cx="994.76" cy="161.25" r="3.6" fill="#000"/>
<circle cx="1021.26" cy="146.69" r="3.6" fill="#000"/>
<circle cx="1047.75" cy="138.5" r="3.6" fill="#000"/>
<circle cx="1074.24" cy="139.77" r="3.6" fill="#000"/>
<circle cx="1100.74" cy="147.78" r="3.6" fill="#000"/>
<circle cx="1127.23" cy="160.52" r="3.6" fill="#000"/>
<circle cx="1153.72" cy="179.63" r="3.6" fill="#000"/>
<circle cx="1180.22" cy="208.21" r="3.6" fill="#000"/>
<circle cx="1206.71" cy="236.78" r="3.6" fill="#000"/>
<circle cx="1233.21" cy="270.45" r="3.6" fill="#000"/>
<circle cx="1259.7" cy="305.76" r="3.6" fill="#000"/>
</g>
<g clip-path="url(#cb)">
<polyline points="835.8,304.17 862.29,299.93 888.79,295.2 915.28,291.93 941.77,288.83 968.27,287.01 994.76,285.19 1021.26,283.74 1047.75,283.74 1074.24,284.65 1100.74,286.83 1127.23,288.29 1153.72,292.29 1180.22,295.57 1206.71,300.3 1233.21,307.03 1259.7,311.58" fill="none" stroke="#ff0000" stroke-width="2.8" stroke-linejoin="round" stroke-linecap="butt"/>
<circle cx="835.8" cy="304.17" r="3.6" fill="#ff0000"/>
<circle cx="862.29" cy="299.93" r="3.6" fill="#ff0000"/>
<circle cx="888.79" cy="295.2" r="3.6" fill="#ff0000"/>
<circle cx="915.28" cy="291.93" r="3.6" fill="#ff0000"/>
<circle cx="941.77" cy="288.83" r="3.6" fill="#ff0000"/>
<circle cx="968.27" cy="287.01" r="3.6" fill="#ff0000"/>
<circle cx="994.76" cy="285.19" r="3.6" fill="#ff0000"/>
<circle cx="1021.26" cy="283.74" r="3.6" fill="#ff0000"/>
<circle cx="1047.75" cy="283.74" r="3.6" fill="#ff0000"/>
<circle cx="1074.24" cy="284.65" r="3.6" fill="#ff0000"/>
<circle cx="1100.74" cy="286.83" r="3.6" fill="#ff0000"/>
<circle cx="1127.23" cy="288.29" r="3.6" fill="#ff0000"/>
<circle cx="1153.72" cy="292.29" r="3.6" fill="#ff0000"/>
<circle cx="1180.22" cy="295.57" r="3.6" fill="#ff0000"/>
<circle cx="1206.71" cy="300.3" r="3.6" fill="#ff0000"/>
<circle cx="1233.21" cy="307.03" r="3.6" fill="#ff0000"/>
<circle cx="1259.7" cy="311.58" r="3.6" fill="#ff0000"/>
</g>
<g clip-path="url(#cb)">
<polyline points="835.8,313.77 862.29,315.04 888.79,313.77 915.28,315.04 941.77,317.41 968.27,316.5 994.76,318.32 1021.26,321.96 1047.75,323.59 1074.24,319.95 1100.74,321.41 1127.23,323.96 1153.72,323.96 1180.22,325.41 1206.71,325.41 1233.21,325.41 1259.7,326.32" fill="none" stroke="#bf00bf" stroke-width="2.8" stroke-linejoin="round" stroke-linecap="butt"/>
<circle cx="835.8" cy="313.77" r="3.6" fill="#bf00bf"/>
<circle cx="862.29" cy="315.04" r="3.6" fill="#bf00bf"/>
<circle cx="888.79" cy="313.77" r="3.6" fill="#bf00bf"/>
<circle cx="915.28" cy="315.04" r="3.6" fill="#bf00bf"/>
<circle cx="941.77" cy="317.41" r="3.6" fill="#bf00bf"/>
<circle cx="968.27" cy="316.5" r="3.6" fill="#bf00bf"/>
<circle cx="994.76" cy="318.32" r="3.6" fill="#bf00bf"/>
<circle cx="1021.26" cy="321.96" r="3.6" fill="#bf00bf"/>
<circle cx="1047.75" cy="323.59" r="3.6" fill="#bf00bf"/>
<circle cx="1074.24" cy="319.95" r="3.6" fill="#bf00bf"/>
<circle cx="1100.74" cy="321.41" r="3.6" fill="#bf00bf"/>
<circle cx="1127.23" cy="323.96" r="3.6" fill="#bf00bf"/>
<circle cx="1153.72" cy="323.96" r="3.6" fill="#bf00bf"/>
<circle cx="1180.22" cy="325.41" r="3.6" fill="#bf00bf"/>
<circle cx="1206.71" cy="325.41" r="3.6" fill="#bf00bf"/>
<circle cx="1233.21" cy="325.41" r="3.6" fill="#bf00bf"/>
<circle cx="1259.7" cy="326.32" r="3.6" fill="#bf00bf"/>
</g>
<line x1="825.5" y1="138.5" x2="1271" y2="138.5" stroke="#000" stroke-width="1" stroke-opacity="0.75"/>
<line x1="825.5" y1="320.5" x2="1271" y2="320.5" stroke="#000" stroke-width="1" stroke-opacity="0.75"/>
<rect x="985.6" y="177.7" width="155.5" height="96.9" rx="3.5" ry="3.5" fill="#fff" fill-opacity="0.8" stroke="#cccccc" stroke-width="1.3"/>
<line x1="992.9" y1="193.6" x2="1039.1" y2="193.6" stroke="#000" stroke-width="2.8"/>
<circle cx="1016" cy="193.6" r="3.6" fill="#000"/>
<text x="1055" y="201.4" font-size="22" text-anchor="start">Line</text>
<line x1="992.9" y1="224" x2="1039.1" y2="224" stroke="#ff0000" stroke-width="2.8"/>
<circle cx="1016" cy="224" r="3.6" fill="#ff0000"/>
<text x="1055" y="231.8" font-size="22" text-anchor="start">Illusory</text>
<line x1="992.9" y1="254.2" x2="1039.1" y2="254.2" stroke="#bf00bf" stroke-width="2.8"/>
<circle cx="1016" cy="254.2" r="3.6" fill="#bf00bf"/>
<text x="1055" y="262" font-size="22" text-anchor="start">Rotated</text>
<defs>
<clipPath id="ce"><rect x="463.5" y="542.9" width="451.5" height="278.7"/></clipPath>
</defs>
<line x1="463.5" y1="548.9" x2="463.5" y2="822.3" stroke="#000" stroke-width="1.4"/>
<line x1="462.8" y1="821.6" x2="909" y2="821.6" stroke="#000" stroke-width="1.4"/>
<line x1="473.8" y1="821.6" x2="473.8" y2="826.2" stroke="#000" stroke-width="1.3"/>
<text x="473.8" y="848.9" font-size="26" text-anchor="middle">−1.0</text>
<line x1="579.77" y1="821.6" x2="579.77" y2="826.2" stroke="#000" stroke-width="1.3"/>
<text x="579.77" y="848.9" font-size="26" text-anchor="middle">−0.5</text>
<line x1="685.75" y1="821.6" x2="685.75" y2="826.2" stroke="#000" stroke-width="1.3"/>
<text x="685.75" y="848.9" font-size="26" text-anchor="middle">0.0</text>
<line x1="791.73" y1="821.6" x2="791.73" y2="826.2" stroke="#000" stroke-width="1.3"/>
<text x="791.73" y="848.9" font-size="26" text-anchor="middle">0.5</text>
<line x1="897.7" y1="821.6" x2="897.7" y2="826.2" stroke="#000" stroke-width="1.3"/>
<text x="897.7" y="848.9" font-size="26" text-anchor="middle">1.0</text>
<line x1="458.9" y1="785.5" x2="463.5" y2="785.5" stroke="#000" stroke-width="1.3"/>
<text x="454.2" y="794.7" font-size="26" text-anchor="end">0</text>
<line x1="458.9" y1="603.5" x2="463.5" y2="603.5" stroke="#000" stroke-width="1.3"/>
<text x="454.2" y="612.7" font-size="26" text-anchor="end">1</text>
<text x="686.25" y="877" font-size="26" text-anchor="middle">Figural position [pixels]</text>
<text x="431" y="685.25" font-size="26" text-anchor="middle" transform="rotate(-90 431 685.25)">Model response</text>
<g clip-path="url(#ce)">
<polyline points="473.8,836.46 500.29,792.6 526.79,750.19 553.28,711.79 579.77,673.21 606.27,647.73 632.76,626.25 659.26,611.69 685.75,603.5 712.24,604.77 738.74,612.78 765.23,625.52 791.73,644.63 818.22,673.21 844.71,701.78 871.21,735.45 897.7,770.76" fill="none" stroke="#000" stroke-width="2.8" stroke-linejoin="round" stroke-linecap="butt"/>
<circle cx="473.8" cy="836.46" r="3.6" fill="#000"/>
<circle cx="500.29" cy="792.6" r="3.6" fill="#000"/>
<circle cx="526.79" cy="750.19" r="3.6" fill="#000"/>
<circle cx="553.28" cy="711.79" r="3.6" fill="#000"/>
<circle cx="579.77" cy="673.21" r="3.6" fill="#000"/>
<circle cx="606.27" cy="647.73" r="3.6" fill="#000"/>
<circle cx="632.76" cy="626.25" r="3.6" fill="#000"/>
<circle cx="659.26" cy="611.69" r="3.6" fill="#000"/>
<circle cx="685.75" cy="603.5" r="3.6" fill="#000"/>
<circle cx="712.24" cy="604.77" r="3.6" fill="#000"/>
<circle cx="738.74" cy="612.78" r="3.6" fill="#000"/>
<circle cx="765.23" cy="625.52" r="3.6" fill="#000"/>
<circle cx="791.73" cy="644.63" r="3.6" fill="#000"/>
<circle cx="818.22" cy="673.21" r="3.6" fill="#000"/>
<circle cx="844.71" cy="701.78" r="3.6" fill="#000"/>
<circle cx="871.21" cy="735.45" r="3.6" fill="#000"/>
<circle cx="897.7" cy="770.76" r="3.6" fill="#000"/>
</g>
<g clip-path="url(#ce)">
<polyline points="473.8,769.17 500.29,764.93 526.79,760.2 553.28,756.93 579.77,753.83 606.27,752.01 632.76,750.19 659.26,748.74 685.75,748.74 712.24,749.65 738.74,751.83 765.23,753.29 791.73,757.29 818.22,760.57 844.71,765.3 871.21,772.03 897.7,776.58" fill="none" stroke="#ff0000" stroke-width="2.8" stroke-linejoin="round" stroke-linecap="butt"/>
<circle cx="473.8" cy="769.17" r="3.6" fill="#ff0000"/>
<circle cx="500.29" cy="764.93" r="3.6" fill="#ff0000"/>
<circle cx="526.79" cy="760.2" r="3.6" fill="#ff0000"/>
<circle cx="553.28" cy="756.93" r="3.6" fill="#ff0000"/>
<circle cx="579.77" cy="753.83" r="3.6" fill="#ff0000"/>
<circle cx="606.27" cy="752.01" r="3.6" fill="#ff0000"/>
<circle cx="632.76" cy="750.19" r="3.6" fill="#ff0000"/>
<circle cx="659.26" cy="748.74" r="3.6" fill="#ff0000"/>
<circle cx="685.75" cy="748.74" r="3.6" fill="#ff0000"/>
<circle cx="712.24" cy="749.65" r="3.6" fill="#ff0000"/>
<circle cx="738.74" cy="751.83" r="3.6" fill="#ff0000"/>
<circle cx="765.23" cy="753.29" r="3.6" fill="#ff0000"/>
<circle cx="791.73" cy="757.29" r="3.6" fill="#ff0000"/>
<circle cx="818.22" cy="760.57" r="3.6" fill="#ff0000"/>
<circle cx="844.71" cy="765.3" r="3.6" fill="#ff0000"/>
<circle cx="871.21" cy="772.03" r="3.6" fill="#ff0000"/>
<circle cx="897.7" cy="776.58" r="3.6" fill="#ff0000"/>
</g>
<g clip-path="url(#ce)">
<polyline points="473.8,811.71 500.29,780.04 526.79,750.92 553.28,714.52 579.77,681.76 606.27,653.91 632.76,630.07 659.26,613.33 685.75,603.5 712.24,602.23 738.74,608.6 765.23,623.7 791.73,644.63 818.22,673.21 844.71,701.78 871.21,735.45 897.7,770.76" fill="none" stroke="#000" stroke-width="2.8" stroke-linejoin="round" stroke-linecap="butt" stroke-dasharray="8.4,4.0"/>
<circle cx="473.8" cy="811.71" r="3.6" fill="#000"/>
<circle cx="500.29" cy="780.04" r="3.6" fill="#000"/>
<circle cx="526.79" cy="750.92" r="3.6" fill="#000"/>
<circle cx="553.28" cy="714.52" r="3.6" fill="#000"/>
<circle cx="579.77" cy="681.76" r="3.6" fill="#000"/>
<circle cx="606.27" cy="653.91" r="3.6" fill="#000"/>
<circle cx="632.76" cy="630.07" r="3.6" fill="#000"/>
<circle cx="659.26" cy="613.33" r="3.6" fill="#000"/>
<circle cx="685.75" cy="603.5" r="3.6" fill="#000"/>
<circle cx="712.24" cy="602.23" r="3.6" fill="#000"/>
<circle cx="738.74" cy="608.6" r="3.6" fill="#000"/>
<circle cx="765.23" cy="623.7" r="3.6" fill="#000"/>
<circle cx="791.73" cy="644.63" r="3.6" fill="#000"/>
<circle cx="818.22" cy="673.21" r="3.6" fill="#000"/>
<circle cx="844.71" cy="701.78" r="3.6" fill="#000"/>
<circle cx="871.21" cy="735.45" r="3.6" fill="#000"/>
<circle cx="897.7" cy="770.76" r="3.6" fill="#000"/>
</g>
<g clip-path="url(#ce)">
<polyline points="473.8,781.68 500.29,778.22 526.79,774.76 553.28,771.3 579.77,768.21 606.27,765.3 632.76,763.11 659.26,761.29 685.75,760.93 712.24,760.93 738.74,761.84 765.23,763.66 791.73,765.66 818.22,768.76 844.71,772.03 871.21,776.04 897.7,779.49" fill="none" stroke="#ff0000" stroke-width="2.8" stroke-linejoin="round" stroke-linecap="butt" stroke-dasharray="8.4,4.0"/>
<circle cx="473.8" cy="781.68" r="3.6" fill="#ff0000"/>
<circle cx="500.29" cy="778.22" r="3.6" fill="#ff0000"/>
<circle cx="526.79" cy="774.76" r="3.6" fill="#ff0000"/>
<circle cx="553.28" cy="771.3" r="3.6" fill="#ff0000"/>
<circle cx="579.77" cy="768.21" r="3.6" fill="#ff0000"/>
<circle cx="606.27" cy="765.3" r="3.6" fill="#ff0000"/>
<circle cx="632.76" cy="763.11" r="3.6" fill="#ff0000"/>
<circle cx="659.26" cy="761.29" r="3.6" fill="#ff0000"/>
<circle cx="685.75" cy="760.93" r="3.6" fill="#ff0000"/>
<circle cx="712.24" cy="760.93" r="3.6" fill="#ff0000"/>
<circle cx="738.74" cy="761.84" r="3.6" fill="#ff0000"/>
<circle cx="765.23" cy="763.66" r="3.6" fill="#ff0000"/>
<circle cx="791.73" cy="765.66" r="3.6" fill="#ff0000"/>
<circle cx="818.22" cy="768.76" r="3.6" fill="#ff0000"/>
<circle cx="844.71" cy="772.03" r="3.6" fill="#ff0000"/>
<circle cx="871.21" cy="776.04" r="3.6" fill="#ff0000"/>
<circle cx="897.7" cy="779.49" r="3.6" fill="#ff0000"/>
</g>
<line x1="463.5" y1="603.5" x2="909" y2="603.5" stroke="#000" stroke-width="1" stroke-opacity="0.75"/>
<line x1="463.5" y1="785.5" x2="909" y2="785.5" stroke="#000" stroke-width="1" stroke-opacity="0.75"/>
<rect x="473.9" y="560.7" width="191.1" height="36.1" rx="3.5" ry="3.5" fill="#fff" fill-opacity="0.8" stroke="#cccccc" stroke-width="1.3"/>
<line x1="481.6" y1="576.2" x2="527.6" y2="576.2" stroke="#000" stroke-width="2.8"/>
<circle cx="504.6" cy="576.2" r="3.6" fill="#000"/>
<text x="542.5" y="584" font-size="22" text-anchor="start">Line, model</text>
<rect x="684.3" y="560.7" width="213.9" height="36.1" rx="3.5" ry="3.5" fill="#fff" fill-opacity="0.8" stroke="#cccccc" stroke-width="1.3"/>
<line x1="692.4" y1="576.2" x2="738.4" y2="576.2" stroke="#000" stroke-width="2.8" stroke-dasharray="8.4,4.0"/>
<circle cx="715.4" cy="576.2" r="3.6" fill="#000"/>
<text x="753.2" y="584" font-size="22" text-anchor="start">Line, lin. resp.</text>
<rect x="585.5" y="681.9" width="237.5" height="63.5" rx="3.5" ry="3.5" fill="#fff" fill-opacity="0.8" stroke="#cccccc" stroke-width="1.3"/>
<line x1="592.5" y1="697.6" x2="638.5" y2="697.6" stroke="#ff0000" stroke-width="2.8"/>
<circle cx="615.5" cy="697.6" r="3.6" fill="#ff0000"/>
<text x="653" y="705.4" font-size="22" text-anchor="start">Illusory, model</text>
<line x1="592.5" y1="728.6" x2="638.5" y2="728.6" stroke="#ff0000" stroke-width="2.8" stroke-dasharray="8.4,4.0"/>
<circle cx="615.5" cy="728.6" r="3.6" fill="#ff0000"/>
<text x="653" y="736.4" font-size="22" text-anchor="start">Illusory, lin. resp.</text>
<defs>
<clipPath id="cf"><rect x="1040" y="542.9" width="451.5" height="278.7"/></clipPath>
</defs>
<line x1="1040" y1="548.9" x2="1040" y2="822.3" stroke="#000" stroke-width="1.4"/>
<line x1="1039.3" y1="821.6" x2="1485.5" y2="821.6" stroke="#000" stroke-width="1.4"/>
<line x1="1050.3" y1="821.6" x2="1050.3" y2="826.2" stroke="#000" stroke-width="1.3"/>
<text x="1050.3" y="848.9" font-size="26" text-anchor="middle">−1.0</text>
<line x1="1156.28" y1="821.6" x2="1156.28" y2="826.2" stroke="#000" stroke-width="1.3"/>
<text x="1156.28" y="848.9" font-size="26" text-anchor="middle">−0.5</text>
<line x1="1262.25" y1="821.6" x2="1262.25" y2="826.2" stroke="#000" stroke-width="1.3"/>
<text x="1262.25" y="848.9" font-size="26" text-anchor="middle">0.0</text>
<line x1="1368.22" y1="821.6" x2="1368.22" y2="826.2" stroke="#000" stroke-width="1.3"/>
<text x="1368.22" y="848.9" font-size="26" text-anchor="middle">0.5</text>
<line x1="1474.2" y1="821.6" x2="1474.2" y2="826.2" stroke="#000" stroke-width="1.3"/>
<text x="1474.2" y="848.9" font-size="26" text-anchor="middle">1.0</text>
<line x1="1035.4" y1="785.5" x2="1040" y2="785.5" stroke="#000" stroke-width="1.3"/>
<text x="1030.7" y="794.7" font-size="26" text-anchor="end">0</text>
<line x1="1035.4" y1="603.5" x2="1040" y2="603.5" stroke="#000" stroke-width="1.3"/>
<text x="1030.7" y="612.7" font-size="26" text-anchor="end">1</text>
<text x="1262.75" y="877" font-size="26" text-anchor="middle">Figural position [pixels]</text>
<text x="1007.5" y="685.25" font-size="26" text-anchor="middle" transform="rotate(-90 1007.5 685.25)">Model response</text>
<g clip-path="url(#cf)">
<polyline points="1050.3,836.46 1076.79,792.6 1103.29,750.19 1129.78,711.79 1156.28,673.21 1182.77,647.73 1209.26,626.25 1235.76,611.69 1262.25,603.5 1288.74,604.77 1315.24,612.78 1341.73,625.52 1368.22,644.63 1394.72,673.21 1421.21,701.78 1447.71,735.45 1474.2,770.76" fill="none" stroke="#000" stroke-width="2.8" stroke-linejoin="round" stroke-linecap="butt"/>
<circle cx="1050.3" cy="836.46" r="3.6" fill="#000"/>
<circle cx="1076.79" cy="792.6" r="3.6" fill="#000"/>
<circle cx="1103.29" cy="750.19" r="3.6" fill="#000"/>
<circle cx="1129.78" cy="711.79" r="3.6" fill="#000"/>
<circle cx="1156.28" cy="673.21" r="3.6" fill="#000"/>
<circle cx="1182.77" cy="647.73" r="3.6" fill="#000"/>
<circle cx="1209.26" cy="626.25" r="3.6" fill="#000"/>
<circle cx="1235.76" cy="611.69" r="3.6" fill="#000"/>
<circle cx="1262.25" cy="603.5" r="3.6" fill="#000"/>
<circle cx="1288.74" cy="604.77" r="3.6" fill="#000"/>
<circle cx="1315.24" cy="612.78" r="3.6" fill="#000"/>
<circle cx="1341.73" cy="625.52" r="3.6" fill="#000"/>
<circle cx="1368.22" cy="644.63" r="3.6" fill="#000"/>
<circle cx="1394.72" cy="673.21" r="3.6" fill="#000"/>
<circle cx="1421.21" cy="701.78" r="3.6" fill="#000"/>
<circle cx="1447.71" cy="735.45" r="3.6" fill="#000"/>
<circle cx="1474.2" cy="770.76" r="3.6" fill="#000"/>
</g>
<g clip-path="url(#cf)">
<polyline points="1050.3,778.77 1076.79,780.04 1103.29,778.77 1129.78,780.04 1156.28,782.41 1182.77,781.5 1209.26,783.32 1235.76,786.96 1262.25,788.59 1288.74,784.95 1315.24,786.41 1341.73,788.96 1368.22,788.96 1394.72,790.41 1421.21,790.41 1447.71,790.41 1474.2,791.32" fill="none" stroke="#bf00bf" stroke-width="2.8" stroke-linejoin="round" stroke-linecap="butt"/>
<circle cx="1050.3" cy="778.77" r="3.6" fill="#bf00bf"/>
<circle cx="1076.79" cy="780.04" r="3.6" fill="#bf00bf"/>
<circle cx="1103.29" cy="778.77" r="3.6" fill="#bf00bf"/>
<circle cx="1129.78" cy="780.04" r="3.6" fill="#bf00bf"/>
<circle cx="1156.28" cy="782.41" r="3.6" fill="#bf00bf"/>
<circle cx="1182.77" cy="781.5" r="3.6" fill="#bf00bf"/>
<circle cx="1209.26" cy="783.32" r="3.6" fill="#bf00bf"/>
<circle cx="1235.76" cy="786.96" r="3.6" fill="#bf00bf"/>
<circle cx="1262.25" cy="788.59" r="3.6" fill="#bf00bf"/>
<circle cx="1288.74" cy="784.95" r="3.6" fill="#bf00bf"/>
<circle cx="1315.24" cy="786.41" r="3.6" fill="#bf00bf"/>
<circle cx="1341.73" cy="788.96" r="3.6" fill="#bf00bf"/>
<circle cx="1368.22" cy="788.96" r="3.6" fill="#bf00bf"/>
<circle cx="1394.72" cy="790.41" r="3.6" fill="#bf00bf"/>
<circle cx="1421.21" cy="790.41" r="3.6" fill="#bf00bf"/>
<circle cx="1447.71" cy="790.41" r="3.6" fill="#bf00bf"/>
<circle cx="1474.2" cy="791.32" r="3.6" fill="#bf00bf"/>
</g>
<g clip-path="url(#cf)">
<polyline points="1050.3,811.71 1076.79,780.04 1103.29,750.92 1129.78,714.52 1156.28,681.76 1182.77,653.91 1209.26,630.07 1235.76,613.33 1262.25,603.5 1288.74,602.23 1315.24,608.6 1341.73,623.7 1368.22,644.63 1394.72,673.21 1421.21,701.78 1447.71,735.45 1474.2,770.76" fill="none" stroke="#000" stroke-width="2.8" stroke-linejoin="round" stroke-linecap="butt" stroke-dasharray="8.4,4.0"/>
<circle cx="1050.3" cy="811.71" r="3.6" fill="#000"/>
<circle cx="1076.79" cy="780.04" r="3.6" fill="#000"/>
<circle cx="1103.29" cy="750.92" r="3.6" fill="#000"/>
<circle cx="1129.78" cy="714.52" r="3.6" fill="#000"/>
<circle cx="1156.28" cy="681.76" r="3.6" fill="#000"/>
<circle cx="1182.77" cy="653.91" r="3.6" fill="#000"/>
<circle cx="1209.26" cy="630.07" r="3.6" fill="#000"/>
<circle cx="1235.76" cy="613.33" r="3.6" fill="#000"/>
<circle cx="1262.25" cy="603.5" r="3.6" fill="#000"/>
<circle cx="1288.74" cy="602.23" r="3.6" fill="#000"/>
<circle cx="1315.24" cy="608.6" r="3.6" fill="#000"/>
<circle cx="1341.73" cy="623.7" r="3.6" fill="#000"/>
<circle cx="1368.22" cy="644.63" r="3.6" fill="#000"/>
<circle cx="1394.72" cy="673.21" r="3.6" fill="#000"/>
<circle cx="1421.21" cy="701.78" r="3.6" fill="#000"/>
<circle cx="1447.71" cy="735.45" r="3.6" fill="#000"/>
<circle cx="1474.2" cy="770.76" r="3.6" fill="#000"/>
</g>
<g clip-path="url(#cf)">
<polyline points="1050.3,785.86 1076.79,787.68 1103.29,788.23 1129.78,788.96 1156.28,789.32 1182.77,789.32 1209.26,788.96 1235.76,788.59 1262.25,788.23 1288.74,787.68 1315.24,786.77 1341.73,786.41 1368.22,785.86 1394.72,785.5 1421.21,785.14 1447.71,785.14 1474.2,784.59" fill="none" stroke="#bf00bf" stroke-width="2.8" stroke-linejoin="round" stroke-linecap="butt" stroke-dasharray="8.4,4.0"/>
<circle cx="1050.3" cy="785.86" r="3.6" fill="#bf00bf"/>
<circle cx="1076.79" cy="787.68" r="3.6" fill="#bf00bf"/>
<circle cx="1103.29" cy="788.23" r="3.6" fill="#bf00bf"/>
<circle cx="1129.78" cy="788.96" r="3.6" fill="#bf00bf"/>
<circle cx="1156.28" cy="789.32" r="3.6" fill="#bf00bf"/>
<circle cx="1182.77" cy="789.32" r="3.6" fill="#bf00bf"/>
<circle cx="1209.26" cy="788.96" r="3.6" fill="#bf00bf"/>
<circle cx="1235.76" cy="788.59" r="3.6" fill="#bf00bf"/>
<circle cx="1262.25" cy="788.23" r="3.6" fill="#bf00bf"/>
<circle cx="1288.74" cy="787.68" r="3.6" fill="#bf00bf"/>
<circle cx="1315.24" cy="786.77" r="3.6" fill="#bf00bf"/>
<circle cx="1341.73" cy="786.41" r="3.6" fill="#bf00bf"/>
<circle cx="1368.22" cy="785.86" r="3.6" fill="#bf00bf"/>
<circle cx="1394.72" cy="785.5" r="3.6" fill="#bf00bf"/>
<circle cx="1421.21" cy="785.14" r="3.6" fill="#bf00bf"/>
<circle cx="1447.71" cy="785.14" r="3.6" fill="#bf00bf"/>
<circle cx="1474.2" cy="784.59" r="3.6" fill="#bf00bf"/>
</g>
<line x1="1040" y1="603.5" x2="1485.5" y2="603.5" stroke="#000" stroke-width="1" stroke-opacity="0.75"/>
<line x1="1040" y1="785.5" x2="1485.5" y2="785.5" stroke="#000" stroke-width="1" stroke-opacity="0.75"/>
<rect x="1050.3" y="560.7" width="191.6" height="36.1" rx="3.5" ry="3.5" fill="#fff" fill-opacity="0.8" stroke="#cccccc" stroke-width="1.3"/>
<line x1="1058" y1="576.2" x2="1104" y2="576.2" stroke="#000" stroke-width="2.8"/>
<circle cx="1081" cy="576.2" r="3.6" fill="#000"/>
<text x="1119" y="584" font-size="22" text-anchor="start">Line, model</text>
<rect x="1260.8" y="560.7" width="213.9" height="36.1" rx="3.5" ry="3.5" fill="#fff" fill-opacity="0.8" stroke="#cccccc" stroke-width="1.3"/>
<line x1="1268.9" y1="576.2" x2="1314.9" y2="576.2" stroke="#000" stroke-width="2.8" stroke-dasharray="8.4,4.0"/>
<circle cx="1291.9" cy="576.2" r="3.6" fill="#000"/>
<text x="1329.7" y="584" font-size="22" text-anchor="start">Line, lin. resp.</text>
<rect x="1155.5" y="700.8" width="250.4" height="66.1" rx="3.5" ry="3.5" fill="#fff" fill-opacity="0.8" stroke="#cccccc" stroke-width="1.3"/>
<line x1="1163.2" y1="716.7" x2="1209.2" y2="716.7" stroke="#bf00bf" stroke-width="2.8"/>
<circle cx="1186.2" cy="716.7" r="3.6" fill="#bf00bf"/>
<text x="1224.5" y="724.5" font-size="22" text-anchor="start">Rotated, model</text>
<line x1="1163.2" y1="747.6" x2="1209.2" y2="747.6" stroke="#bf00bf" stroke-width="2.8" stroke-dasharray="8.4,4.0"/>
<circle cx="1186.2" cy="747.6" r="3.6" fill="#bf00bf"/>
<text x="1224.5" y="755.4" font-size="22" text-anchor="start">Rotated, lin. resp.</text>
<rect x="1444.3" y="3.0" width="545.7" height="445.4" rx="25" ry="25" fill="#fdfbf4" stroke="#000" stroke-width="6.2"/>
<text x="1740" y="60.9" font-size="45.7" text-anchor="middle" font-weight="bold">Experiment</text>
<polygon points="1594.1,327.48 1629.75,340.21 1665.4,315.93 1701.05,239.3 1736.7,122.43 1772.35,246.93 1808,296.07 1843.65,316.95 1879.3,330.45 1914.95,340.38 1914.95,345.47 1879.3,338.09 1843.65,327.14 1808,313.05 1772.35,277.49 1736.7,163.17 1701.05,264.76 1665.4,324.42 1629.75,346.15 1594.1,341.06" fill="#000" fill-opacity="0.3"/>
<polygon points="1594.1,338.85 1629.75,347.08 1665.4,341.99 1701.05,333.16 1736.7,268.32 1772.35,331.21 1808,343.09 1843.65,347.25 1879.3,344.96 1914.95,346.66 1914.95,348.35 1879.3,347 1843.65,348.95 1808,346.49 1772.35,338 1736.7,298.88 1701.05,341.65 1665.4,346.23 1629.75,349.12 1594.1,343.94" fill="#ff0000" fill-opacity="0.3"/>
<polygon points="1594.1,346.4 1629.75,347.25 1665.4,344.96 1701.05,342.41 1736.7,338.76 1772.35,345.55 1808,346.4 1843.65,346.4 1879.3,343.18 1914.95,344.54 1914.95,346.23 1879.3,345.72 1843.65,348.1 1808,348.1 1772.35,348.95 1736.7,346.4 1701.05,345.81 1665.4,347 1629.75,348.95 1594.1,348.1" fill="#bf00bf" fill-opacity="0.3"/>
<polyline points="1594.1,334.27 1629.75,343.18 1665.4,320.18 1701.05,252.03 1736.7,142.8 1772.35,262.21 1808,304.56 1843.65,322.04 1879.3,334.27 1914.95,342.92" fill="none" stroke="#000" stroke-width="2.8" stroke-linejoin="round" stroke-linecap="butt"/>
<circle cx="1594.1" cy="334.27" r="3.6" fill="#000"/>
<circle cx="1629.75" cy="343.18" r="3.6" fill="#000"/>
<circle cx="1665.4" cy="320.18" r="3.6" fill="#000"/>
<circle cx="1701.05" cy="252.03" r="3.6" fill="#000"/>
<circle cx="1736.7" cy="142.8" r="3.6" fill="#000"/>
<circle cx="1772.35" cy="262.21" r="3.6" fill="#000"/>
<circle cx="1808" cy="304.56" r="3.6" fill="#000"/>
<circle cx="1843.65" cy="322.04" r="3.6" fill="#000"/>
<circle cx="1879.3" cy="334.27" r="3.6" fill="#000"/>
<circle cx="1914.95" cy="342.92" r="3.6" fill="#000"/>
<polyline points="1594.1,341.4 1629.75,348.1 1665.4,344.11 1701.05,337.41 1736.7,283.6 1772.35,334.61 1808,344.79 1843.65,348.1 1879.3,345.98 1914.95,347.51" fill="none" stroke="#ff0000" stroke-width="2.8" stroke-linejoin="round" stroke-linecap="butt"/>
<circle cx="1594.1" cy="341.4" r="3.6" fill="#ff0000"/>
<circle cx="1629.75" cy="348.1" r="3.6" fill="#ff0000"/>
<circle cx="1665.4" cy="344.11" r="3.6" fill="#ff0000"/>
<circle cx="1701.05" cy="337.41" r="3.6" fill="#ff0000"/>
<circle cx="1736.7" cy="283.6" r="3.6" fill="#ff0000"/>
<circle cx="1772.35" cy="334.61" r="3.6" fill="#ff0000"/>
<circle cx="1808" cy="344.79" r="3.6" fill="#ff0000"/>
<circle cx="1843.65" cy="348.1" r="3.6" fill="#ff0000"/>
<circle cx="1879.3" cy="345.98" r="3.6" fill="#ff0000"/>
<circle cx="1914.95" cy="347.51" r="3.6" fill="#ff0000"/>
<polyline points="1594.1,347.25 1629.75,348.1 1665.4,345.98 1701.05,344.11 1736.7,342.58 1772.35,347.25 1808,347.25 1843.65,347.25 1879.3,344.45 1914.95,345.38" fill="none" stroke="#bf00bf" stroke-width="2.8" stroke-linejoin="round" stroke-linecap="butt"/>
<circle cx="1594.1" cy="347.25" r="3.6" fill="#bf00bf"/>
<circle cx="1629.75" cy="348.1" r="3.6" fill="#bf00bf"/>
<circle cx="1665.4" cy="345.98" r="3.6" fill="#bf00bf"/>
<circle cx="1701.05" cy="344.11" r="3.6" fill="#bf00bf"/>
<circle cx="1736.7" cy="342.58" r="3.6" fill="#bf00bf"/>
<circle cx="1772.35" cy="347.25" r="3.6" fill="#bf00bf"/>
<circle cx="1808" cy="347.25" r="3.6" fill="#bf00bf"/>
<circle cx="1843.65" cy="347.25" r="3.6" fill="#bf00bf"/>
<circle cx="1879.3" cy="344.45" r="3.6" fill="#bf00bf"/>
<circle cx="1914.95" cy="345.38" r="3.6" fill="#bf00bf"/>
<line x1="1558.4" y1="93.5" x2="1558.4" y2="357.2" stroke="#000" stroke-width="1.4"/>
<line x1="1557.7" y1="356.5" x2="1951.2" y2="356.5" stroke="#000" stroke-width="1.4"/>
<line x1="1594.1" y1="356.5" x2="1594.1" y2="361.1" stroke="#000" stroke-width="1.3"/>
<text x="1594.1" y="383.8" font-size="26" text-anchor="middle">−1.0</text>
<line x1="1665.4" y1="356.5" x2="1665.4" y2="361.1" stroke="#000" stroke-width="1.3"/>
<text x="1665.4" y="383.8" font-size="26" text-anchor="middle">−0.5</text>
<line x1="1736.7" y1="356.5" x2="1736.7" y2="361.1" stroke="#000" stroke-width="1.3"/>
<text x="1736.7" y="383.8" font-size="26" text-anchor="middle">0.0</text>
<line x1="1808" y1="356.5" x2="1808" y2="361.1" stroke="#000" stroke-width="1.3"/>
<text x="1808" y="383.8" font-size="26" text-anchor="middle">0.5</text>
<line x1="1879.3" y1="356.5" x2="1879.3" y2="361.1" stroke="#000" stroke-width="1.3"/>
<text x="1879.3" y="383.8" font-size="26" text-anchor="middle">1.0</text>
<line x1="1950.6" y1="356.5" x2="1950.6" y2="361.1" stroke="#000" stroke-width="1.3"/>
<text x="1950.6" y="383.8" font-size="26" text-anchor="middle">1.5</text>
<line x1="1553.8" y1="348.1" x2="1558.4" y2="348.1" stroke="#000" stroke-width="1.3"/>
<text x="1549.1" y="357.3" font-size="26" text-anchor="end">0</text>
<line x1="1553.8" y1="305.67" x2="1558.4" y2="305.67" stroke="#000" stroke-width="1.3"/>
<text x="1549.1" y="314.87" font-size="26" text-anchor="end">5</text>
<line x1="1553.8" y1="263.23" x2="1558.4" y2="263.23" stroke="#000" stroke-width="1.3"/>
<text x="1549.1" y="272.43" font-size="26" text-anchor="end">10</text>
<line x1="1553.8" y1="220.8" x2="1558.4" y2="220.8" stroke="#000" stroke-width="1.3"/>
<text x="1549.1" y="230" font-size="26" text-anchor="end">15</text>
<line x1="1553.8" y1="178.36" x2="1558.4" y2="178.36" stroke="#000" stroke-width="1.3"/>
<text x="1549.1" y="187.56" font-size="26" text-anchor="end">20</text>
<line x1="1553.8" y1="135.93" x2="1558.4" y2="135.93" stroke="#000" stroke-width="1.3"/>
<text x="1549.1" y="145.12" font-size="26" text-anchor="end">25</text>
<line x1="1553.8" y1="93.49" x2="1558.4" y2="93.49" stroke="#000" stroke-width="1.3"/>
<text x="1549.1" y="102.69" font-size="26" text-anchor="end">30</text>
<text x="1754.8" y="412" font-size="26" text-anchor="middle">Figural position [degree visual angle]</text>
<text x="1484" y="224.7" font-size="26" text-anchor="middle" transform="rotate(-90 1484 224.7)">Average spikes</text>
<text x="1511.5" y="226.7" font-size="26" text-anchor="middle" transform="rotate(-90 1511.5 226.7)">in window</text>
<rect x="1782.2" y="109.1" width="155.5" height="96.6" rx="3.5" ry="3.5" fill="#fff" fill-opacity="0.8" stroke="#cccccc" stroke-width="1.3"/>
<line x1="1789.6" y1="125.4" x2="1835.6" y2="125.4" stroke="#000" stroke-width="2.8"/>
<circle cx="1812.6" cy="125.4" r="3.6" fill="#000"/>
<text x="1851" y="133.2" font-size="22" text-anchor="start">Line</text>
<line x1="1789.6" y1="155.4" x2="1835.6" y2="155.4" stroke="#ff0000" stroke-width="2.8"/>
<circle cx="1812.6" cy="155.4" r="3.6" fill="#ff0000"/>
<text x="1851" y="163.2" font-size="22" text-anchor="start">Illusory</text>
<line x1="1789.6" y1="185.8" x2="1835.6" y2="185.8" stroke="#bf00bf" stroke-width="2.8"/>
<circle cx="1812.6" cy="185.8" r="3.6" fill="#bf00bf"/>
<text x="1851" y="193.6" font-size="22" text-anchor="start">Rotated</text>
<rect x="141.13" y="787.85" width="87.35" height="13.59" fill="none" stroke="#a0a0a0" stroke-width="1.5"/>
<line x1="141.13" y1="795.25" x2="228.47" y2="795.25" stroke="#a0a0a0" stroke-width="1.5"/>
<line x1="184.8" y1="787.85" x2="184.8" y2="769.18" stroke="#a0a0a0" stroke-width="1.5"/>
<line x1="184.8" y1="801.44" x2="184.8" y2="806" stroke="#a0a0a0" stroke-width="1.5"/>
<line x1="162.5" y1="769.18" x2="207.1" y2="769.18" stroke="#a0a0a0" stroke-width="1.5"/>
<line x1="162.5" y1="806" x2="207.1" y2="806" stroke="#a0a0a0" stroke-width="1.5"/>
<rect x="265.03" y="799.97" width="87.35" height="4.72" fill="none" stroke="#a0a0a0" stroke-width="1.5"/>
<line x1="265.03" y1="803.3" x2="352.37" y2="803.3" stroke="#a0a0a0" stroke-width="1.5"/>
<line x1="308.7" y1="799.97" x2="308.7" y2="793.78" stroke="#a0a0a0" stroke-width="1.5"/>
<line x1="308.7" y1="804.7" x2="308.7" y2="808.61" stroke="#a0a0a0" stroke-width="1.5"/>
<line x1="286.4" y1="793.78" x2="331" y2="793.78" stroke="#a0a0a0" stroke-width="1.5"/>
<line x1="286.4" y1="808.61" x2="331" y2="808.61" stroke="#a0a0a0" stroke-width="1.5"/>
<circle cx="184.8" cy="734.32" r="4.3" fill="#ff0000" fill-opacity="0.3"/>
<circle cx="184.8" cy="737.26" r="4.3" fill="#ff0000" fill-opacity="0.3"/>
<circle cx="184.8" cy="747.68" r="4.3" fill="#ff0000" fill-opacity="0.3"/>
<circle cx="184.8" cy="757.13" r="4.3" fill="#ff0000" fill-opacity="0.3"/>
<circle cx="184.8" cy="763.32" r="4.3" fill="#ff0000" fill-opacity="0.3"/>
<circle cx="184.8" cy="765.93" r="4.3" fill="#ff0000" fill-opacity="0.3"/>
<circle cx="184.8" cy="769.51" r="4.3" fill="#ff0000" fill-opacity="0.3"/>
<circle cx="184.8" cy="774.72" r="4.3" fill="#ff0000" fill-opacity="0.3"/>
<circle cx="184.8" cy="776.68" r="4.3" fill="#ff0000" fill-opacity="0.3"/>
<circle cx="184.8" cy="779.94" r="4.3" fill="#ff0000" fill-opacity="0.3"/>
<circle cx="184.8" cy="623.55" r="4.3" fill="#ff0000" fill-opacity="0.3"/>
<circle cx="184.8" cy="638.86" r="4.3" fill="#ff0000" fill-opacity="0.3"/>
<circle cx="184.8" cy="685.45" r="4.3" fill="#ff0000" fill-opacity="0.3"/>
<circle cx="184.8" cy="806.65" r="4.3" fill="#ff0000" fill-opacity="0.3"/>
<circle cx="184.8" cy="806.62" r="4.3" fill="#ff0000" fill-opacity="0.3"/>
<circle cx="184.8" cy="806.56" r="4.3" fill="#ff0000" fill-opacity="0.3"/>
<circle cx="184.8" cy="806.48" r="4.3" fill="#ff0000" fill-opacity="0.3"/>
<circle cx="184.8" cy="806.38" r="4.3" fill="#ff0000" fill-opacity="0.3"/>
<circle cx="184.8" cy="806.26" r="4.3" fill="#ff0000" fill-opacity="0.3"/>
<circle cx="184.8" cy="806.13" r="4.3" fill="#ff0000" fill-opacity="0.3"/>
<circle cx="184.8" cy="805.98" r="4.3" fill="#ff0000" fill-opacity="0.3"/>
<circle cx="184.8" cy="805.82" r="4.3" fill="#ff0000" fill-opacity="0.3"/>
<circle cx="184.8" cy="805.65" r="4.3" fill="#ff0000" fill-opacity="0.3"/>
<circle cx="184.8" cy="805.47" r="4.3" fill="#ff0000" fill-opacity="0.3"/>
<circle cx="184.8" cy="805.27" r="4.3" fill="#ff0000" fill-opacity="0.3"/>
<circle cx="184.8" cy="805.06" r="4.3" fill="#ff0000" fill-opacity="0.3"/>
<circle cx="184.8" cy="804.85" r="4.3" fill="#ff0000" fill-opacity="0.3"/>
<circle cx="184.8" cy="804.62" r="4.3" fill="#ff0000" fill-opacity="0.3"/>
<circle cx="184.8" cy="804.38" r="4.3" fill="#ff0000" fill-opacity="0.3"/>
<circle cx="184.8" cy="804.14" r="4.3" fill="#ff0000" fill-opacity="0.3"/>
<circle cx="184.8" cy="803.88" r="4.3" fill="#ff0000" fill-opacity="0.3"/>
<circle cx="184.8" cy="803.62" r="4.3" fill="#ff0000" fill-opacity="0.3"/>
<circle cx="184.8" cy="803.34" r="4.3" fill="#ff0000" fill-opacity="0.3"/>
<circle cx="184.8" cy="803.06" r="4.3" fill="#ff0000" fill-opacity="0.3"/>
<circle cx="184.8" cy="802.77" r="4.3" fill="#ff0000" fill-opacity="0.3"/>
<circle cx="184.8" cy="802.47" r="4.3" fill="#ff0000" fill-opacity="0.3"/>
<circle cx="184.8" cy="802.16" r="4.3" fill="#ff0000" fill-opacity="0.3"/>
<circle cx="184.8" cy="801.84" r="4.3" fill="#ff0000" fill-opacity="0.3"/>
<circle cx="184.8" cy="801.52" r="4.3" fill="#ff0000" fill-opacity="0.3"/>
<circle cx="184.8" cy="801.18" r="4.3" fill="#ff0000" fill-opacity="0.3"/>
<circle cx="184.8" cy="800.84" r="4.3" fill="#ff0000" fill-opacity="0.3"/>
<circle cx="184.8" cy="800.5" r="4.3" fill="#ff0000" fill-opacity="0.3"/>
<circle cx="184.8" cy="800.14" r="4.3" fill="#ff0000" fill-opacity="0.3"/>
<circle cx="184.8" cy="799.78" r="4.3" fill="#ff0000" fill-opacity="0.3"/>
<circle cx="184.8" cy="799.41" r="4.3" fill="#ff0000" fill-opacity="0.3"/>
<circle cx="184.8" cy="799.03" r="4.3" fill="#ff0000" fill-opacity="0.3"/>
<circle cx="184.8" cy="798.64" r="4.3" fill="#ff0000" fill-opacity="0.3"/>
<circle cx="184.8" cy="798.25" r="4.3" fill="#ff0000" fill-opacity="0.3"/>
<circle cx="184.8" cy="797.85" r="4.3" fill="#ff0000" fill-opacity="0.3"/>
<circle cx="184.8" cy="797.45" r="4.3" fill="#ff0000" fill-opacity="0.3"/>
<circle cx="184.8" cy="797.04" r="4.3" fill="#ff0000" fill-opacity="0.3"/>
<circle cx="184.8" cy="796.62" r="4.3" fill="#ff0000" fill-opacity="0.3"/>
<circle cx="184.8" cy="796.19" r="4.3" fill="#ff0000" fill-opacity="0.3"/>
<circle cx="184.8" cy="795.76" r="4.3" fill="#ff0000" fill-opacity="0.3"/>
<circle cx="184.8" cy="795.32" r="4.3" fill="#ff0000" fill-opacity="0.3"/>
<circle cx="184.8" cy="794.87" r="4.3" fill="#ff0000" fill-opacity="0.3"/>
<circle cx="184.8" cy="794.42" r="4.3" fill="#ff0000" fill-opacity="0.3"/>
<circle cx="184.8" cy="793.96" r="4.3" fill="#ff0000" fill-opacity="0.3"/>
<circle cx="184.8" cy="793.5" r="4.3" fill="#ff0000" fill-opacity="0.3"/>
<circle cx="184.8" cy="793.03" r="4.3" fill="#ff0000" fill-opacity="0.3"/>
<circle cx="184.8" cy="792.55" r="4.3" fill="#ff0000" fill-opacity="0.3"/>
<circle cx="184.8" cy="792.07" r="4.3" fill="#ff0000" fill-opacity="0.3"/>
<circle cx="184.8" cy="791.58" r="4.3" fill="#ff0000" fill-opacity="0.3"/>
<circle cx="184.8" cy="791.08" r="4.3" fill="#ff0000" fill-opacity="0.3"/>
<circle cx="184.8" cy="790.58" r="4.3" fill="#ff0000" fill-opacity="0.3"/>
<circle cx="184.8" cy="790.08" r="4.3" fill="#ff0000" fill-opacity="0.3"/>
<circle cx="184.8" cy="789.56" r="4.3" fill="#ff0000" fill-opacity="0.3"/>
<circle cx="184.8" cy="789.04" r="4.3" fill="#ff0000" fill-opacity="0.3"/>
<circle cx="184.8" cy="788.52" r="4.3" fill="#ff0000" fill-opacity="0.3"/>
<circle cx="184.8" cy="787.99" r="4.3" fill="#ff0000" fill-opacity="0.3"/>
<circle cx="184.8" cy="787.45" r="4.3" fill="#ff0000" fill-opacity="0.3"/>
<circle cx="184.8" cy="786.91" r="4.3" fill="#ff0000" fill-opacity="0.3"/>
<circle cx="184.8" cy="786.36" r="4.3" fill="#ff0000" fill-opacity="0.3"/>
<circle cx="184.8" cy="785.81" r="4.3" fill="#ff0000" fill-opacity="0.3"/>
<circle cx="184.8" cy="785.25" r="4.3" fill="#ff0000" fill-opacity="0.3"/>
<circle cx="184.8" cy="784.69" r="4.3" fill="#ff0000" fill-opacity="0.3"/>
<circle cx="184.8" cy="784.12" r="4.3" fill="#ff0000" fill-opacity="0.3"/>
<circle cx="184.8" cy="783.54" r="4.3" fill="#ff0000" fill-opacity="0.3"/>
<circle cx="184.8" cy="782.96" r="4.3" fill="#ff0000" fill-opacity="0.3"/>
<circle cx="184.8" cy="782.38" r="4.3" fill="#ff0000" fill-opacity="0.3"/>
<circle cx="184.8" cy="781.79" r="4.3" fill="#ff0000" fill-opacity="0.3"/>
<circle cx="184.8" cy="781.19" r="4.3" fill="#ff0000" fill-opacity="0.3"/>
<circle cx="184.8" cy="780.59" r="4.3" fill="#ff0000" fill-opacity="0.3"/>
<circle cx="308.7" cy="581.2" r="4.3" fill="#bf00bf" fill-opacity="0.3"/>
<circle cx="308.7" cy="749.31" r="4.3" fill="#bf00bf" fill-opacity="0.3"/>
<circle cx="308.7" cy="771.47" r="4.3" fill="#bf00bf" fill-opacity="0.3"/>
<circle cx="308.7" cy="773.42" r="4.3" fill="#bf00bf" fill-opacity="0.3"/>
<circle cx="308.7" cy="777.33" r="4.3" fill="#bf00bf" fill-opacity="0.3"/>
<circle cx="308.7" cy="779.28" r="4.3" fill="#bf00bf" fill-opacity="0.3"/>
<circle cx="308.7" cy="788.08" r="4.3" fill="#bf00bf" fill-opacity="0.3"/>
<circle cx="308.7" cy="789.71" r="4.3" fill="#bf00bf" fill-opacity="0.3"/>
<circle cx="308.7" cy="808.93" r="4.3" fill="#bf00bf" fill-opacity="0.3"/>
<circle cx="308.7" cy="808.86" r="4.3" fill="#bf00bf" fill-opacity="0.3"/>
<circle cx="308.7" cy="808.76" r="4.3" fill="#bf00bf" fill-opacity="0.3"/>
<circle cx="308.7" cy="808.64" r="4.3" fill="#bf00bf" fill-opacity="0.3"/>
<circle cx="308.7" cy="808.51" r="4.3" fill="#bf00bf" fill-opacity="0.3"/>
<circle cx="308.7" cy="808.37" r="4.3" fill="#bf00bf" fill-opacity="0.3"/>
<circle cx="308.7" cy="808.22" r="4.3" fill="#bf00bf" fill-opacity="0.3"/>
<circle cx="308.7" cy="808.07" r="4.3" fill="#bf00bf" fill-opacity="0.3"/>
<circle cx="308.7" cy="807.9" r="4.3" fill="#bf00bf" fill-opacity="0.3"/>
<circle cx="308.7" cy="807.73" r="4.3" fill="#bf00bf" fill-opacity="0.3"/>
<circle cx="308.7" cy="807.56" r="4.3" fill="#bf00bf" fill-opacity="0.3"/>
<circle cx="308.7" cy="807.38" r="4.3" fill="#bf00bf" fill-opacity="0.3"/>
<circle cx="308.7" cy="807.19" r="4.3" fill="#bf00bf" fill-opacity="0.3"/>
<circle cx="308.7" cy="807" r="4.3" fill="#bf00bf" fill-opacity="0.3"/>
<circle cx="308.7" cy="806.8" r="4.3" fill="#bf00bf" fill-opacity="0.3"/>
<circle cx="308.7" cy="806.6" r="4.3" fill="#bf00bf" fill-opacity="0.3"/>
<circle cx="308.7" cy="806.4" r="4.3" fill="#bf00bf" fill-opacity="0.3"/>
<circle cx="308.7" cy="806.19" r="4.3" fill="#bf00bf" fill-opacity="0.3"/>
<circle cx="308.7" cy="805.98" r="4.3" fill="#bf00bf" fill-opacity="0.3"/>
<circle cx="308.7" cy="805.76" r="4.3" fill="#bf00bf" fill-opacity="0.3"/>
<circle cx="308.7" cy="805.55" r="4.3" fill="#bf00bf" fill-opacity="0.3"/>
<circle cx="308.7" cy="805.32" r="4.3" fill="#bf00bf" fill-opacity="0.3"/>
<circle cx="308.7" cy="805.1" r="4.3" fill="#bf00bf" fill-opacity="0.3"/>
<circle cx="308.7" cy="804.87" r="4.3" fill="#bf00bf" fill-opacity="0.3"/>
<circle cx="308.7" cy="804.64" r="4.3" fill="#bf00bf" fill-opacity="0.3"/>
<circle cx="308.7" cy="804.41" r="4.3" fill="#bf00bf" fill-opacity="0.3"/>
<circle cx="308.7" cy="804.17" r="4.3" fill="#bf00bf" fill-opacity="0.3"/>
<circle cx="308.7" cy="803.93" r="4.3" fill="#bf00bf" fill-opacity="0.3"/>
<circle cx="308.7" cy="803.69" r="4.3" fill="#bf00bf" fill-opacity="0.3"/>
<circle cx="308.7" cy="803.44" r="4.3" fill="#bf00bf" fill-opacity="0.3"/>
<circle cx="308.7" cy="803.19" r="4.3" fill="#bf00bf" fill-opacity="0.3"/>
<circle cx="308.7" cy="802.95" r="4.3" fill="#bf00bf" fill-opacity="0.3"/>
<circle cx="308.7" cy="802.69" r="4.3" fill="#bf00bf" fill-opacity="0.3"/>
<circle cx="308.7" cy="802.44" r="4.3" fill="#bf00bf" fill-opacity="0.3"/>
<circle cx="308.7" cy="802.18" r="4.3" fill="#bf00bf" fill-opacity="0.3"/>
<circle cx="308.7" cy="801.92" r="4.3" fill="#bf00bf" fill-opacity="0.3"/>
<circle cx="308.7" cy="801.66" r="4.3" fill="#bf00bf" fill-opacity="0.3"/>
<circle cx="308.7" cy="801.4" r="4.3" fill="#bf00bf" fill-opacity="0.3"/>
<circle cx="308.7" cy="801.13" r="4.3" fill="#bf00bf" fill-opacity="0.3"/>
<circle cx="308.7" cy="800.86" r="4.3" fill="#bf00bf" fill-opacity="0.3"/>
<circle cx="308.7" cy="800.59" r="4.3" fill="#bf00bf" fill-opacity="0.3"/>
<circle cx="308.7" cy="800.32" r="4.3" fill="#bf00bf" fill-opacity="0.3"/>
<circle cx="308.7" cy="800.05" r="4.3" fill="#bf00bf" fill-opacity="0.3"/>
<circle cx="308.7" cy="799.77" r="4.3" fill="#bf00bf" fill-opacity="0.3"/>
<circle cx="308.7" cy="799.49" r="4.3" fill="#bf00bf" fill-opacity="0.3"/>
<circle cx="308.7" cy="799.21" r="4.3" fill="#bf00bf" fill-opacity="0.3"/>
<circle cx="308.7" cy="798.93" r="4.3" fill="#bf00bf" fill-opacity="0.3"/>
<circle cx="308.7" cy="798.65" r="4.3" fill="#bf00bf" fill-opacity="0.3"/>
<circle cx="308.7" cy="798.36" r="4.3" fill="#bf00bf" fill-opacity="0.3"/>
<circle cx="308.7" cy="798.08" r="4.3" fill="#bf00bf" fill-opacity="0.3"/>
<circle cx="308.7" cy="797.79" r="4.3" fill="#bf00bf" fill-opacity="0.3"/>
<circle cx="308.7" cy="797.5" r="4.3" fill="#bf00bf" fill-opacity="0.3"/>
<circle cx="308.7" cy="797.2" r="4.3" fill="#bf00bf" fill-opacity="0.3"/>
<circle cx="308.7" cy="796.91" r="4.3" fill="#bf00bf" fill-opacity="0.3"/>
<circle cx="308.7" cy="796.61" r="4.3" fill="#bf00bf" fill-opacity="0.3"/>
<circle cx="308.7" cy="796.32" r="4.3" fill="#bf00bf" fill-opacity="0.3"/>
<circle cx="308.7" cy="796.02" r="4.3" fill="#bf00bf" fill-opacity="0.3"/>
<circle cx="308.7" cy="795.72" r="4.3" fill="#bf00bf" fill-opacity="0.3"/>
<circle cx="308.7" cy="795.41" r="4.3" fill="#bf00bf" fill-opacity="0.3"/>
<circle cx="308.7" cy="795.11" r="4.3" fill="#bf00bf" fill-opacity="0.3"/>
<circle cx="308.7" cy="794.81" r="4.3" fill="#bf00bf" fill-opacity="0.3"/>
<circle cx="308.7" cy="794.5" r="4.3" fill="#bf00bf" fill-opacity="0.3"/>
<circle cx="308.7" cy="794.19" r="4.3" fill="#bf00bf" fill-opacity="0.3"/>
<circle cx="308.7" cy="793.88" r="4.3" fill="#bf00bf" fill-opacity="0.3"/>
<circle cx="308.7" cy="793.57" r="4.3" fill="#bf00bf" fill-opacity="0.3"/>
<circle cx="308.7" cy="793.26" r="4.3" fill="#bf00bf" fill-opacity="0.3"/>
<circle cx="308.7" cy="792.94" r="4.3" fill="#bf00bf" fill-opacity="0.3"/>
<circle cx="308.7" cy="792.63" r="4.3" fill="#bf00bf" fill-opacity="0.3"/>
<circle cx="308.7" cy="792.31" r="4.3" fill="#bf00bf" fill-opacity="0.3"/>
<circle cx="308.7" cy="791.99" r="4.3" fill="#bf00bf" fill-opacity="0.3"/>
<circle cx="184.8" cy="528.22" r="4.3" fill="#ff0000" fill-opacity="0.3"/>
<line x1="122.9" y1="806" x2="371.6" y2="806" stroke="#222" stroke-width="1.7" stroke-opacity="0.85"/>
<line x1="122.9" y1="561.6" x2="122.9" y2="823.1" stroke="#000" stroke-width="1.4"/>
<line x1="122.2" y1="822.4" x2="371.6" y2="822.4" stroke="#000" stroke-width="1.4"/>
<line x1="122.9" y1="499.6" x2="122.9" y2="532.5" stroke="#000" stroke-width="1.4"/>
<line x1="117.7" y1="564.3" x2="128.1" y2="558.9" stroke="#000" stroke-width="1.5"/>
<line x1="117.7" y1="535.2" x2="128.1" y2="529.8" stroke="#000" stroke-width="1.5"/>
<line x1="118.3" y1="806" x2="122.9" y2="806" stroke="#000" stroke-width="1.3"/>
<text x="114.3" y="815.6" font-size="27" text-anchor="end">0</text>
<line x1="118.3" y1="740.84" x2="122.9" y2="740.84" stroke="#000" stroke-width="1.3"/>
<text x="114.3" y="750.44" font-size="27" text-anchor="end">2</text>
<line x1="118.3" y1="675.68" x2="122.9" y2="675.68" stroke="#000" stroke-width="1.3"/>
<text x="114.3" y="685.28" font-size="27" text-anchor="end">4</text>
<line x1="118.3" y1="610.52" x2="122.9" y2="610.52" stroke="#000" stroke-width="1.3"/>
<text x="114.3" y="620.12" font-size="27" text-anchor="end">6</text>
<line x1="118.3" y1="532.5" x2="122.9" y2="532.5" stroke="#000" stroke-width="1.3"/>
<text x="114.3" y="542.1" font-size="27" text-anchor="end">17</text>
<line x1="118.3" y1="499.6" x2="122.9" y2="499.6" stroke="#000" stroke-width="1.3"/>
<text x="114.3" y="509.2" font-size="27" text-anchor="end">18</text>
<line x1="184.8" y1="822.4" x2="184.8" y2="827" stroke="#000" stroke-width="1.3"/>
<text x="184.8" y="850" font-size="27" text-anchor="middle">Illusory</text>
<line x1="308.7" y1="822.4" x2="308.7" y2="827" stroke="#000" stroke-width="1.3"/>
<text x="308.7" y="850" font-size="27" text-anchor="middle">Rotated</text>
<text x="50.5" y="653.5" font-size="28" text-anchor="middle" transform="rotate(-90 50.5 653.5)">Stimulus-to-Line</text>
<text x="79.2" y="653.5" font-size="28" text-anchor="middle" transform="rotate(-90 79.2 653.5)">response ratio at peak</text>
<polyline points="184.6,518 184.6,509.4 308.5,509.4 308.5,518" fill="none" stroke="#000" stroke-width="1.5"/>
<text x="246.6" y="513.6" font-size="25.5" text-anchor="middle">***</text>
<line x1="1821.08" y1="513.6" x2="1821.08" y2="713.6" stroke="#000" stroke-width="1.3" stroke-dasharray="1.6,1.6"/>
<line x1="1821.08" y1="742" x2="1821.08" y2="822.4" stroke="#000" stroke-width="1.3" stroke-dasharray="1.6,1.6"/>
<rect x="1652.59" y="578.72" width="17.43" height="12.62" fill="none" stroke="#a0a0a0" stroke-width="1.5"/>
<line x1="1652.59" y1="585.23" x2="1670.01" y2="585.23" stroke="#a0a0a0" stroke-width="1.5"/>
<line x1="1661.3" y1="578.72" x2="1661.3" y2="575.87" stroke="#a0a0a0" stroke-width="1.5"/>
<line x1="1661.3" y1="591.34" x2="1661.3" y2="605.99" stroke="#a0a0a0" stroke-width="1.5"/>
<line x1="1656.94" y1="575.87" x2="1665.66" y2="575.87" stroke="#a0a0a0" stroke-width="1.5"/>
<line x1="1656.94" y1="605.99" x2="1665.66" y2="605.99" stroke="#a0a0a0" stroke-width="1.5"/>
<rect x="1710.68" y="586.86" width="17.43" height="37.04" fill="none" stroke="#a0a0a0" stroke-width="1.5"/>
<line x1="1710.68" y1="601.51" x2="1728.12" y2="601.51" stroke="#a0a0a0" stroke-width="1.5"/>
<line x1="1719.4" y1="586.86" x2="1719.4" y2="542.9" stroke="#a0a0a0" stroke-width="1.5"/>
<line x1="1719.4" y1="623.9" x2="1719.4" y2="623.9" stroke="#a0a0a0" stroke-width="1.5"/>
<line x1="1715.04" y1="542.9" x2="1723.76" y2="542.9" stroke="#a0a0a0" stroke-width="1.5"/>
<line x1="1715.04" y1="623.9" x2="1723.76" y2="623.9" stroke="#a0a0a0" stroke-width="1.5"/>
<rect x="1768.78" y="604.77" width="17.43" height="6.92" fill="none" stroke="#a0a0a0" stroke-width="1.5"/>
<line x1="1768.78" y1="608.43" x2="1786.21" y2="608.43" stroke="#a0a0a0" stroke-width="1.5"/>
<line x1="1777.5" y1="604.77" x2="1777.5" y2="596.63" stroke="#a0a0a0" stroke-width="1.5"/>
<line x1="1777.5" y1="611.69" x2="1777.5" y2="613.72" stroke="#a0a0a0" stroke-width="1.5"/>
<line x1="1773.14" y1="596.63" x2="1781.86" y2="596.63" stroke="#a0a0a0" stroke-width="1.5"/>
<line x1="1773.14" y1="613.72" x2="1781.86" y2="613.72" stroke="#a0a0a0" stroke-width="1.5"/>
<rect x="1852.74" y="603.95" width="23.82" height="7.73" fill="none" stroke="#a0a0a0" stroke-width="1.5"/>
<line x1="1852.74" y1="609.24" x2="1876.56" y2="609.24" stroke="#a0a0a0" stroke-width="1.5"/>
<line x1="1864.65" y1="603.95" x2="1864.65" y2="596.22" stroke="#a0a0a0" stroke-width="1.5"/>
<line x1="1864.65" y1="611.69" x2="1864.65" y2="622.27" stroke="#a0a0a0" stroke-width="1.5"/>
<line x1="1858.55" y1="596.22" x2="1870.75" y2="596.22" stroke="#a0a0a0" stroke-width="1.5"/>
<line x1="1858.55" y1="622.27" x2="1870.75" y2="622.27" stroke="#a0a0a0" stroke-width="1.5"/>
<rect x="1910.84" y="611.69" width="23.82" height="1.63" fill="none" stroke="#a0a0a0" stroke-width="1.5"/>
<line x1="1910.84" y1="612.5" x2="1934.66" y2="612.5" stroke="#a0a0a0" stroke-width="1.5"/>
<line x1="1922.75" y1="611.69" x2="1922.75" y2="610.06" stroke="#a0a0a0" stroke-width="1.5"/>
<line x1="1922.75" y1="613.31" x2="1922.75" y2="614.94" stroke="#a0a0a0" stroke-width="1.5"/>
<line x1="1916.65" y1="610.06" x2="1928.85" y2="610.06" stroke="#a0a0a0" stroke-width="1.5"/>
<line x1="1916.65" y1="614.94" x2="1928.85" y2="614.94" stroke="#a0a0a0" stroke-width="1.5"/>
<circle cx="1661.3" cy="550.64" r="3.8" fill="#ff0000" fill-opacity="0.3"/>
<circle cx="1661.3" cy="553.49" r="3.8" fill="#ff0000" fill-opacity="0.3"/>
<circle cx="1661.3" cy="577.9" r="3.8" fill="#ff0000" fill-opacity="0.3"/>
<circle cx="1661.3" cy="581.98" r="3.8" fill="#ff0000" fill-opacity="0.3"/>
<circle cx="1661.3" cy="584.82" r="3.8" fill="#ff0000" fill-opacity="0.3"/>
<circle cx="1661.3" cy="585.64" r="3.8" fill="#ff0000" fill-opacity="0.3"/>
<circle cx="1661.3" cy="587.27" r="3.8" fill="#ff0000" fill-opacity="0.3"/>
<circle cx="1661.3" cy="590.12" r="3.8" fill="#ff0000" fill-opacity="0.3"/>
<circle cx="1661.3" cy="604.36" r="3.8" fill="#ff0000" fill-opacity="0.3"/>
<circle cx="1661.3" cy="606.39" r="3.8" fill="#ff0000" fill-opacity="0.3"/>
<circle cx="1719.4" cy="542.9" r="3.8" fill="#ff0000" fill-opacity="0.3"/>
<circle cx="1719.4" cy="574.65" r="3.8" fill="#ff0000" fill-opacity="0.3"/>
<circle cx="1719.4" cy="586.04" r="3.8" fill="#ff0000" fill-opacity="0.3"/>
<circle cx="1719.4" cy="588.08" r="3.8" fill="#ff0000" fill-opacity="0.3"/>
<circle cx="1719.4" cy="602.33" r="3.8" fill="#ff0000" fill-opacity="0.3"/>
<circle cx="1719.4" cy="624.71" r="3.8" fill="#ff0000" fill-opacity="0.3"/>
<circle cx="1777.5" cy="596.22" r="3.8" fill="#ff0000" fill-opacity="0.3"/>
<circle cx="1777.5" cy="600.29" r="3.8" fill="#ff0000" fill-opacity="0.3"/>
<circle cx="1777.5" cy="606.39" r="3.8" fill="#ff0000" fill-opacity="0.3"/>
<circle cx="1777.5" cy="607.62" r="3.8" fill="#ff0000" fill-opacity="0.3"/>
<circle cx="1777.5" cy="608.43" r="3.8" fill="#ff0000" fill-opacity="0.3"/>
<circle cx="1777.5" cy="609.24" r="3.8" fill="#ff0000" fill-opacity="0.3"/>
<circle cx="1777.5" cy="610.06" r="3.8" fill="#ff0000" fill-opacity="0.3"/>
<circle cx="1777.5" cy="610.87" r="3.8" fill="#ff0000" fill-opacity="0.3"/>
<circle cx="1777.5" cy="612.5" r="3.8" fill="#ff0000" fill-opacity="0.3"/>
<circle cx="1777.5" cy="614.53" r="3.8" fill="#ff0000" fill-opacity="0.3"/>
<circle cx="1864.65" cy="590.73" r="3.8" fill="#ff0000" fill-opacity="0.3"/>
<circle cx="1864.65" cy="593.78" r="3.8" fill="#ff0000" fill-opacity="0.3"/>
<circle cx="1864.65" cy="599.48" r="3.8" fill="#ff0000" fill-opacity="0.3"/>
<circle cx="1864.65" cy="599.93" r="3.8" fill="#ff0000" fill-opacity="0.3"/>
<circle cx="1864.65" cy="600.38" r="3.8" fill="#ff0000" fill-opacity="0.3"/>
<circle cx="1864.65" cy="600.84" r="3.8" fill="#ff0000" fill-opacity="0.3"/>
<circle cx="1864.65" cy="601.29" r="3.8" fill="#ff0000" fill-opacity="0.3"/>
<circle cx="1864.65" cy="601.75" r="3.8" fill="#ff0000" fill-opacity="0.3"/>
<circle cx="1864.65" cy="602.2" r="3.8" fill="#ff0000" fill-opacity="0.3"/>
<circle cx="1864.65" cy="602.66" r="3.8" fill="#ff0000" fill-opacity="0.3"/>
<circle cx="1864.65" cy="603.11" r="3.8" fill="#ff0000" fill-opacity="0.3"/>
<circle cx="1864.65" cy="603.57" r="3.8" fill="#ff0000" fill-opacity="0.3"/>
<circle cx="1864.65" cy="604.02" r="3.8" fill="#ff0000" fill-opacity="0.3"/>
<circle cx="1864.65" cy="604.48" r="3.8" fill="#ff0000" fill-opacity="0.3"/>
<circle cx="1864.65" cy="604.93" r="3.8" fill="#ff0000" fill-opacity="0.3"/>
<circle cx="1864.65" cy="605.38" r="3.8" fill="#ff0000" fill-opacity="0.3"/>
<circle cx="1864.65" cy="605.84" r="3.8" fill="#ff0000" fill-opacity="0.3"/>
<circle cx="1864.65" cy="606.29" r="3.8" fill="#ff0000" fill-opacity="0.3"/>
<circle cx="1864.65" cy="606.75" r="3.8" fill="#ff0000" fill-opacity="0.3"/>
<circle cx="1864.65" cy="607.2" r="3.8" fill="#ff0000" fill-opacity="0.3"/>
<circle cx="1864.65" cy="607.66" r="3.8" fill="#ff0000" fill-opacity="0.3"/>
<circle cx="1864.65" cy="608.11" r="3.8" fill="#ff0000" fill-opacity="0.3"/>
<circle cx="1864.65" cy="608.57" r="3.8" fill="#ff0000" fill-opacity="0.3"/>
<circle cx="1864.65" cy="609.02" r="3.8" fill="#ff0000" fill-opacity="0.3"/>
<circle cx="1864.65" cy="609.47" r="3.8" fill="#ff0000" fill-opacity="0.3"/>
<circle cx="1864.65" cy="609.93" r="3.8" fill="#ff0000" fill-opacity="0.3"/>
<circle cx="1864.65" cy="610.38" r="3.8" fill="#ff0000" fill-opacity="0.3"/>
<circle cx="1864.65" cy="610.84" r="3.8" fill="#ff0000" fill-opacity="0.3"/>
<circle cx="1864.65" cy="611.29" r="3.8" fill="#ff0000" fill-opacity="0.3"/>
<circle cx="1864.65" cy="611.75" r="3.8" fill="#ff0000" fill-opacity="0.3"/>
<circle cx="1864.65" cy="612.2" r="3.8" fill="#ff0000" fill-opacity="0.3"/>
<circle cx="1864.65" cy="612.66" r="3.8" fill="#ff0000" fill-opacity="0.3"/>
<circle cx="1864.65" cy="613.11" r="3.8" fill="#ff0000" fill-opacity="0.3"/>
<circle cx="1864.65" cy="615.76" r="3.8" fill="#ff0000" fill-opacity="0.3"/>
<circle cx="1864.65" cy="618.61" r="3.8" fill="#ff0000" fill-opacity="0.3"/>
<circle cx="1864.65" cy="621.05" r="3.8" fill="#ff0000" fill-opacity="0.3"/>
<circle cx="1864.65" cy="624.1" r="3.8" fill="#ff0000" fill-opacity="0.3"/>
<rect x="1918.45" y="602.2" width="8.6" height="4.2" fill="#ff0000" fill-opacity="0.3"/>
<rect x="1918.45" y="606.2" width="8.6" height="14.1" fill="#ff0000"/>
<line x1="1632.4" y1="612.5" x2="1952" y2="612.5" stroke="#000" stroke-width="1.7" stroke-opacity="0.85"/>
<circle cx="1719.4" cy="615.35" r="3.3" fill="none" stroke="#ff0000" stroke-opacity="0.3" stroke-width="1"/>
<circle cx="1719.4" cy="695.93" r="3.8" fill="#ff0000" fill-opacity="0.3"/>
<circle cx="1719.4" cy="796.01" r="3.8" fill="#ff0000" fill-opacity="0.3"/>
<line x1="1632.4" y1="510.6" x2="1632.4" y2="713.6" stroke="#000" stroke-width="1.4"/>
<line x1="1632.4" y1="741" x2="1632.4" y2="823.1" stroke="#000" stroke-width="1.4"/>
<line x1="1631.7" y1="822.4" x2="1952" y2="822.4" stroke="#000" stroke-width="1.4"/>
<line x1="1627.2" y1="743.7" x2="1637.6" y2="738.3" stroke="#000" stroke-width="1.5"/>
<line x1="1627.2" y1="716.3" x2="1637.6" y2="710.9" stroke="#000" stroke-width="1.5"/>
<line x1="1627.8" y1="531.1" x2="1632.4" y2="531.1" stroke="#000" stroke-width="1.3"/>
<text x="1623.1" y="540.3" font-size="26" text-anchor="end">0.2</text>
<line x1="1627.8" y1="612.5" x2="1632.4" y2="612.5" stroke="#000" stroke-width="1.3"/>
<text x="1623.1" y="621.7" font-size="26" text-anchor="end">0.0</text>
<line x1="1627.8" y1="693.9" x2="1632.4" y2="693.9" stroke="#000" stroke-width="1.3"/>
<text x="1623.1" y="703.1" font-size="26" text-anchor="end">−0.2</text>
<line x1="1627.8" y1="761.5" x2="1632.4" y2="761.5" stroke="#000" stroke-width="1.3"/>
<text x="1623.1" y="770.7" font-size="26" text-anchor="end">−0.7</text>
<line x1="1627.8" y1="802.1" x2="1632.4" y2="802.1" stroke="#000" stroke-width="1.3"/>
<text x="1623.1" y="811.3" font-size="26" text-anchor="end">−0.8</text>
<line x1="1661.3" y1="822.4" x2="1661.3" y2="827" stroke="#000" stroke-width="1.3"/>
<line x1="1719.4" y1="822.4" x2="1719.4" y2="827" stroke="#000" stroke-width="1.3"/>
<line x1="1777.5" y1="822.4" x2="1777.5" y2="827" stroke="#000" stroke-width="1.3"/>
<line x1="1864.65" y1="822.4" x2="1864.65" y2="827" stroke="#000" stroke-width="1.3"/>
<line x1="1922.75" y1="822.4" x2="1922.75" y2="827" stroke="#000" stroke-width="1.3"/>
<text transform="translate(1668 832.5) rotate(-90)" x="0" y="0" font-size="26.5" text-anchor="end"><tspan font-weight="bold" font-size="38">z</tspan><tspan font-size="19" dy="4" dx="0.8">2</tspan><tspan dy="-4" dx="2.4"> posterior</tspan></text>
<text transform="translate(1726 832.5) rotate(-90)" x="0" y="0" font-size="26.5" text-anchor="end"><tspan font-weight="bold" font-size="38">z</tspan><tspan font-size="19" dy="4" dx="0.8">2</tspan><tspan dy="-4" dx="2.4"> prior</tspan></text>
<text transform="translate(1783.8 832.5) rotate(-90)" x="0" y="0" font-size="26.5" text-anchor="end"><tspan font-weight="bold" font-size="38">z</tspan><tspan font-size="19" dy="4" dx="0.8">2</tspan><tspan dy="-4" dx="2.4"> clamped</tspan></text>
<text transform="translate(1872.6 831) rotate(-90)" font-size="26.5" text-anchor="end">shallow-VAE</text>
<text transform="translate(1930.2 831) rotate(-90)" font-size="26.5" text-anchor="end">CORnet</text>
<text x="1534" y="674" font-size="26" text-anchor="middle" transform="rotate(-90 1534 674)">Model minus linear</text>
<text x="1563.5" y="672.7" font-size="26" text-anchor="middle" transform="rotate(-90 1563.5 672.7)">response</text>
<text x="1661.3" y="544" font-size="25.5" text-anchor="middle">***</text>
<text x="1719.4" y="538.2" font-size="26" text-anchor="middle">n.s.</text>
<text x="1776" y="544" font-size="25.5" text-anchor="middle">*</text>
<text x="1864.65" y="544" font-size="25.5" text-anchor="middle">**</text>
<text x="1922.75" y="538.2" font-size="26" text-anchor="middle">n.s.</text>
<polyline points="1661.3,518 1661.3,509.3 1777.5,509.3 1777.5,518" fill="none" stroke="#000" stroke-width="1.5"/>
<text x="1719.4" y="512.5" font-size="25.5" text-anchor="middle">**</text>
<polyline points="1661.3,493 1661.3,483.9 1864.65,483.9 1864.65,493" fill="none" stroke="#000" stroke-width="1.5"/>
<text x="1761.97" y="487.6" font-size="25.5" text-anchor="middle">***</text>
</svg></body></html>
